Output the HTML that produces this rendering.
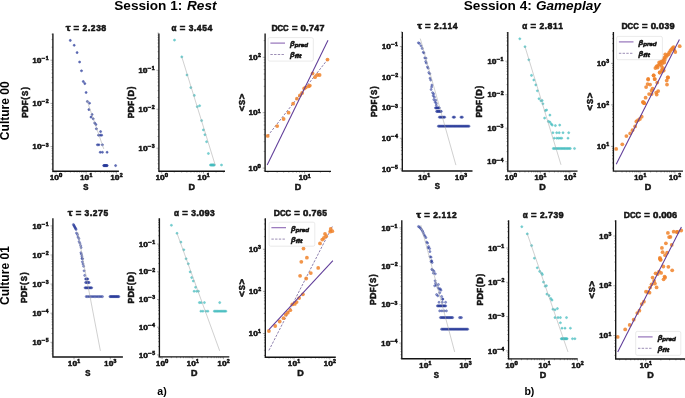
<!DOCTYPE html>
<html><head><meta charset="utf-8"><style>
html,body{margin:0;padding:0;background:#fff;}
body{width:685px;height:398px;overflow:hidden;font-family:"Liberation Sans", sans-serif;}
svg{display:block;will-change:transform;}
</style></head><body>
<svg width="685" height="398" viewBox="0 0 685 398" font-family='"Liberation Sans", sans-serif'>
<style>text{stroke:#141414;stroke-width:0.52px;paint-order:stroke;} .beta{stroke-width:0.5px;} .nb{stroke:none;}</style>
<rect width="685" height="398" fill="#fff"/>
<path d="M52.9 169.19h-1.4 M52.9 163.79h-1.4 M52.9 159.6h-1.4 M52.9 156.18h-1.4 M52.9 153.29h-1.4 M52.9 150.79h-1.4 M52.9 148.58h-1.4 M52.9 146.6h-2.4 M52.9 133.6h-1.4 M52.9 125.99h-1.4 M52.9 120.59h-1.4 M52.9 116.4h-1.4 M52.9 112.98h-1.4 M52.9 110.09h-1.4 M52.9 107.59h-1.4 M52.9 105.38h-1.4 M52.9 103.4h-2.4 M52.9 90.4h-1.4 M52.9 82.79h-1.4 M52.9 77.39h-1.4 M52.9 73.2h-1.4 M52.9 69.78h-1.4 M52.9 66.89h-1.4 M52.9 64.39h-1.4 M52.9 62.18h-1.4 M52.9 60.2h-2.4 M52.9 47.2h-1.4 M52.9 39.59h-1.4 M52.9 34.19h-1.4 M53.07 171.2v1.4 M54.62 171.2v1.4 M56 171.2v2.4 M65.09 171.2v1.4 M70.41 171.2v1.4 M74.18 171.2v1.4 M77.11 171.2v1.4 M79.5 171.2v1.4 M81.52 171.2v1.4 M83.27 171.2v1.4 M84.82 171.2v1.4 M86.2 171.2v2.4 M95.29 171.2v1.4 M100.61 171.2v1.4 M104.38 171.2v1.4 M107.31 171.2v1.4 M109.7 171.2v1.4 M111.72 171.2v1.4 M113.47 171.2v1.4 M115.02 171.2v1.4 M116.4 171.2v2.4" stroke="#555" stroke-width="0.5" fill="none"/>
<g fill="#141414" font-weight="bold"><text font-size="6.97" transform="matrix(1.06 0 0 1 32.5 62.8)">1</text><text font-size="6.97" transform="matrix(1.21 0 0 1 36.85 62.8)">0</text><text font-size="4.88" transform="matrix(1.2 0 0 1 41.78 60.15)">−</text><text font-size="4.88" transform="matrix(1.06 0 0 1 45.66 60.15)">1</text></g>
<g fill="#141414" font-weight="bold"><text font-size="6.97" transform="matrix(1.06 0 0 1 32.58 106)">1</text><text font-size="6.97" transform="matrix(1.21 0 0 1 36.94 106)">0</text><text font-size="4.88" transform="matrix(1.2 0 0 1 41.87 103.35)">−</text><text font-size="4.88" transform="matrix(1.06 0 0 1 45.74 103.35)">2</text></g>
<g fill="#141414" font-weight="bold"><text font-size="6.97" transform="matrix(1.06 0 0 1 32.55 149.2)">1</text><text font-size="6.97" transform="matrix(1.21 0 0 1 36.9 149.2)">0</text><text font-size="4.88" transform="matrix(1.2 0 0 1 41.83 146.55)">−</text><text font-size="4.88" transform="matrix(1.06 0 0 1 45.7 146.55)">3</text></g>
<g fill="#141414" font-weight="bold"><text font-size="6.97" transform="matrix(1.06 0 0 1 49.98 180.1)">1</text><text font-size="6.97" transform="matrix(1.21 0 0 1 54.34 180.1)">0</text><text font-size="4.88" transform="matrix(1.21 0 0 1 59 177.45)">0</text></g>
<g fill="#141414" font-weight="bold"><text font-size="6.97" transform="matrix(1.06 0 0 1 80.23 180.1)">1</text><text font-size="6.97" transform="matrix(1.21 0 0 1 84.59 180.1)">0</text><text font-size="4.88" transform="matrix(1.06 0 0 1 89.47 177.45)">1</text></g>
<g fill="#141414" font-weight="bold"><text font-size="6.97" transform="matrix(1.06 0 0 1 110.47 180.1)">1</text><text font-size="6.97" transform="matrix(1.21 0 0 1 114.83 180.1)">0</text><text font-size="4.88" transform="matrix(1.06 0 0 1 119.7 177.45)">2</text></g>
<g fill="#27399a" fill-opacity="0.72" stroke="#27399a" stroke-opacity="0.8" stroke-width="0.55"><circle cx="70.3" cy="40.4" r="1.05"/><circle cx="74.2" cy="45.3" r="1.05"/><circle cx="77.1" cy="52.6" r="1.05"/><circle cx="79.6" cy="62" r="1.05"/><circle cx="81.5" cy="70.8" r="1.05"/><circle cx="83.3" cy="81.5" r="1.05"/><circle cx="84.8" cy="83.6" r="1.05"/><circle cx="86.1" cy="92.5" r="1.05"/><circle cx="87.4" cy="101.5" r="1.05"/><circle cx="89.5" cy="103.2" r="1.05"/><circle cx="88.9" cy="109.6" r="1.05"/><circle cx="92.1" cy="114.5" r="1.05"/><circle cx="91" cy="117.1" r="1.05"/><circle cx="93.2" cy="118.8" r="1.05"/><circle cx="94.7" cy="123" r="1.05"/><circle cx="95.9" cy="124.5" r="1.05"/><circle cx="96.4" cy="128.8" r="1.05"/><circle cx="100.6" cy="131.6" r="1.05"/><circle cx="98.5" cy="135.2" r="1.05"/><circle cx="100.2" cy="135.2" r="1.05"/><circle cx="101.7" cy="135.2" r="1.05"/><circle cx="97.4" cy="144.8" r="1.05"/><circle cx="98.9" cy="144.8" r="1.05"/><circle cx="102.4" cy="144.8" r="1.05"/><circle cx="100.2" cy="152.3" r="1.05"/><circle cx="102.4" cy="152.3" r="1.05"/><circle cx="107.1" cy="152.3" r="1.05"/><circle cx="103.7" cy="165.6" r="1.05"/><circle cx="104.2" cy="165.6" r="1.05"/><circle cx="104.7" cy="165.6" r="1.05"/><circle cx="105.2" cy="165.6" r="1.05"/><circle cx="105.7" cy="165.6" r="1.05"/><circle cx="106.2" cy="165.6" r="1.05"/><circle cx="106.7" cy="165.6" r="1.05"/><circle cx="107.2" cy="165.6" r="1.05"/><circle cx="115.6" cy="165.6" r="1.05"/></g>
<line x1="86.8" y1="100" x2="103.8" y2="149" stroke="#a8a8a8" stroke-width="0.55"/>
<path d="M52.9 33.5V171.2H118.9" stroke="#141414" stroke-width="1.35" fill="none"/>
<g fill="#141414" font-weight="bold"><text font-size="8.42" transform="matrix(1.28 0 0 1 65.72 30.75)">τ</text><text font-size="8.42" transform="matrix(1.13 0 0 1 73.61 30.75)">=</text><text font-size="8.42" transform="matrix(1 0 0 1 82.58 30.75)">2</text><text font-size="8.42" transform="matrix(1.13 0 0 1 87.72 30.75)">.</text><text font-size="8.42" transform="matrix(1 0 0 1 90.81 30.75)">2</text><text font-size="8.42" transform="matrix(1 0 0 1 96.14 30.75)">3</text><text font-size="8.42" transform="matrix(1.05 0 0 1 101.33 30.75)">8</text></g>
<g fill="#141414" font-weight="bold"><text font-size="8.48" transform="matrix(0.92 0 0 1 83.34 189.6)">S</text></g>
<g fill="#141414" font-weight="bold" transform="translate(27.5 102.35) rotate(-90)"><text font-size="8.53" transform="matrix(1 0 0 1 -15.47 0)">P</text><text font-size="8.53" transform="matrix(1.06 0 0 1 -9.61 0)">D</text><text font-size="8.53" transform="matrix(0.94 0 0 1 -2.86 0)">F</text><text font-size="8.53" transform="matrix(0.97 0 0 1 2.72 0)">(</text><text font-size="8.53" transform="matrix(0.92 0 0 1 6.43 0)">S</text><text font-size="8.53" transform="matrix(0.97 0 0 1 12.55 0)">)</text></g>
<path d="M158.9 168.57h-1.4 M158.9 163.7h-1.4 M158.9 159.93h-1.4 M158.9 156.84h-1.4 M158.9 154.23h-1.4 M158.9 151.97h-1.4 M158.9 149.98h-1.4 M158.9 148.2h-2.4 M158.9 136.47h-1.4 M158.9 129.62h-1.4 M158.9 124.75h-1.4 M158.9 120.98h-1.4 M158.9 117.89h-1.4 M158.9 115.28h-1.4 M158.9 113.02h-1.4 M158.9 111.03h-1.4 M158.9 109.25h-2.4 M158.9 97.52h-1.4 M158.9 90.67h-1.4 M158.9 85.8h-1.4 M158.9 82.03h-1.4 M158.9 78.94h-1.4 M158.9 76.33h-1.4 M158.9 74.07h-1.4 M158.9 72.08h-1.4 M158.9 70.3h-2.4 M158.9 58.57h-1.4 M158.9 51.72h-1.4 M158.9 46.85h-1.4 M158.9 43.08h-1.4 M158.9 39.99h-1.4 M158.9 37.38h-1.4 M158.9 35.12h-1.4 M158.9 33.13h-1.4 M159.79 171.2v1.4 M161.7 171.2v2.4 M174.28 171.2v1.4 M181.64 171.2v1.4 M186.87 171.2v1.4 M190.92 171.2v1.4 M194.23 171.2v1.4 M197.03 171.2v1.4 M199.45 171.2v1.4 M201.59 171.2v1.4 M203.5 171.2v2.4 M216.08 171.2v1.4 M223.44 171.2v1.4" stroke="#555" stroke-width="0.5" fill="none"/>
<g fill="#141414" font-weight="bold"><text font-size="6.97" transform="matrix(1.06 0 0 1 138.5 72.9)">1</text><text font-size="6.97" transform="matrix(1.21 0 0 1 142.85 72.9)">0</text><text font-size="4.88" transform="matrix(1.2 0 0 1 147.78 70.25)">−</text><text font-size="4.88" transform="matrix(1.06 0 0 1 151.66 70.25)">1</text></g>
<g fill="#141414" font-weight="bold"><text font-size="6.97" transform="matrix(1.06 0 0 1 138.58 111.85)">1</text><text font-size="6.97" transform="matrix(1.21 0 0 1 142.94 111.85)">0</text><text font-size="4.88" transform="matrix(1.2 0 0 1 147.87 109.2)">−</text><text font-size="4.88" transform="matrix(1.06 0 0 1 151.74 109.2)">2</text></g>
<g fill="#141414" font-weight="bold"><text font-size="6.97" transform="matrix(1.06 0 0 1 138.55 150.8)">1</text><text font-size="6.97" transform="matrix(1.21 0 0 1 142.9 150.8)">0</text><text font-size="4.88" transform="matrix(1.2 0 0 1 147.83 148.15)">−</text><text font-size="4.88" transform="matrix(1.06 0 0 1 151.7 148.15)">3</text></g>
<g fill="#141414" font-weight="bold"><text font-size="6.97" transform="matrix(1.06 0 0 1 155.68 180.1)">1</text><text font-size="6.97" transform="matrix(1.21 0 0 1 160.04 180.1)">0</text><text font-size="4.88" transform="matrix(1.21 0 0 1 164.7 177.45)">0</text></g>
<g fill="#141414" font-weight="bold"><text font-size="6.97" transform="matrix(1.06 0 0 1 197.53 180.1)">1</text><text font-size="6.97" transform="matrix(1.21 0 0 1 201.89 180.1)">0</text><text font-size="4.88" transform="matrix(1.06 0 0 1 206.77 177.45)">1</text></g>
<g fill="#45bcbf" fill-opacity="0.72" stroke="#45bcbf" stroke-opacity="0.8" stroke-width="0.55"><circle cx="174.5" cy="40.1" r="1.05"/><circle cx="181.8" cy="56.9" r="1.05"/><circle cx="187" cy="75" r="1.05"/><circle cx="190.8" cy="87.6" r="1.05"/><circle cx="194.3" cy="95.4" r="1.05"/><circle cx="197.3" cy="106.7" r="1.05"/><circle cx="199.6" cy="105.7" r="1.05"/><circle cx="201.6" cy="120.6" r="1.05"/><circle cx="203.4" cy="129.9" r="1.05"/><circle cx="204.9" cy="134.7" r="1.05"/><circle cx="206.6" cy="141.7" r="1.05"/><circle cx="208.4" cy="153.5" r="1.05"/><circle cx="210.5" cy="165" r="1.05"/><circle cx="211.04" cy="165" r="1.05"/><circle cx="211.59" cy="165" r="1.05"/><circle cx="212.13" cy="165" r="1.05"/><circle cx="212.67" cy="165" r="1.05"/><circle cx="213.21" cy="165" r="1.05"/><circle cx="213.76" cy="165" r="1.05"/><circle cx="214.3" cy="165" r="1.05"/><circle cx="221.5" cy="165" r="1.05"/></g>
<line x1="181.8" y1="56.9" x2="215.2" y2="165" stroke="#a8a8a8" stroke-width="0.55"/>
<path d="M158.9 33.5V171.2H225" stroke="#141414" stroke-width="1.35" fill="none"/>
<g fill="#141414" font-weight="bold"><text font-size="8.42" transform="matrix(0.96 0 0 1 171.4 30.75)">α</text><text font-size="8.42" transform="matrix(1.13 0 0 1 179.68 30.75)">=</text><text font-size="8.42" transform="matrix(1 0 0 1 188.66 30.75)">3</text><text font-size="8.42" transform="matrix(1.13 0 0 1 193.79 30.75)">.</text><text font-size="8.42" transform="matrix(1.03 0 0 1 196.78 30.75)">4</text><text font-size="8.42" transform="matrix(1 0 0 1 202.22 30.75)">5</text><text font-size="8.42" transform="matrix(1.03 0 0 1 207.43 30.75)">4</text></g>
<g fill="#141414" font-weight="bold"><text font-size="8.48" transform="matrix(1.06 0 0 1 188.61 189.6)">D</text></g>
<g fill="#141414" font-weight="bold" transform="translate(133.5 102.35) rotate(-90)"><text font-size="8.53" transform="matrix(1 0 0 1 -15.92 0)">P</text><text font-size="8.53" transform="matrix(1.06 0 0 1 -10.05 0)">D</text><text font-size="8.53" transform="matrix(0.94 0 0 1 -3.3 0)">F</text><text font-size="8.53" transform="matrix(0.97 0 0 1 2.28 0)">(</text><text font-size="8.53" transform="matrix(1.06 0 0 1 5.81 0)">D</text><text font-size="8.53" transform="matrix(0.97 0 0 1 12.99 0)">)</text></g>
<path d="M265.1 170.63h-1.4 M265.1 168.1h-2.4 M265.1 151.42h-1.4 M265.1 141.67h-1.4 M265.1 134.75h-1.4 M265.1 129.38h-1.4 M265.1 124.99h-1.4 M265.1 121.28h-1.4 M265.1 118.07h-1.4 M265.1 115.23h-1.4 M265.1 112.7h-2.4 M265.1 96.02h-1.4 M265.1 86.27h-1.4 M265.1 79.35h-1.4 M265.1 73.98h-1.4 M265.1 69.59h-1.4 M265.1 65.88h-1.4 M265.1 62.67h-1.4 M265.1 59.83h-1.4 M265.1 57.3h-2.4 M265.1 40.62h-1.4 M267.9 171.3v1.4 M277.15 171.3v1.4 M283.71 171.3v1.4 M288.8 171.3v1.4 M292.95 171.3v1.4 M296.47 171.3v1.4 M299.51 171.3v1.4 M302.2 171.3v1.4 M304.6 171.3v2.4 M320.4 171.3v1.4 M329.65 171.3v1.4" stroke="#555" stroke-width="0.5" fill="none"/>
<g fill="#141414" font-weight="bold"><text font-size="6.97" transform="matrix(1.06 0 0 1 248.71 59.9)">1</text><text font-size="6.97" transform="matrix(1.21 0 0 1 253.07 59.9)">0</text><text font-size="4.88" transform="matrix(1.06 0 0 1 257.94 57.25)">2</text></g>
<g fill="#141414" font-weight="bold"><text font-size="6.97" transform="matrix(1.06 0 0 1 248.63 115.3)">1</text><text font-size="6.97" transform="matrix(1.21 0 0 1 252.98 115.3)">0</text><text font-size="4.88" transform="matrix(1.06 0 0 1 257.86 112.65)">1</text></g>
<g fill="#141414" font-weight="bold"><text font-size="6.97" transform="matrix(1.06 0 0 1 248.53 170.7)">1</text><text font-size="6.97" transform="matrix(1.21 0 0 1 252.89 170.7)">0</text><text font-size="4.88" transform="matrix(1.21 0 0 1 257.55 168.05)">0</text></g>
<g fill="#141414" font-weight="bold"><text font-size="6.97" transform="matrix(1.06 0 0 1 298.63 180.2)">1</text><text font-size="6.97" transform="matrix(1.21 0 0 1 302.99 180.2)">0</text><text font-size="4.88" transform="matrix(1.06 0 0 1 307.87 177.55)">1</text></g>
<line x1="267.7" y1="135.9" x2="327.5" y2="59.6" stroke="#6f5e98" stroke-width="0.8" stroke-dasharray="2.4 1.4"/>
<g fill="#f0832a" fill-opacity="0.85"><circle cx="267.7" cy="135.9" r="1.9"/><circle cx="277.2" cy="126.1" r="1.9"/><circle cx="283.6" cy="119" r="1.9"/><circle cx="288.6" cy="112.7" r="1.9"/><circle cx="293.1" cy="103.7" r="1.9"/><circle cx="296.9" cy="98.7" r="1.9"/><circle cx="299.9" cy="95.3" r="1.9"/><circle cx="302.1" cy="93" r="1.9"/><circle cx="304.2" cy="88.5" r="1.9"/><circle cx="305.8" cy="87.4" r="1.9"/><circle cx="308.7" cy="86.3" r="1.9"/><circle cx="309.8" cy="85.6" r="1.9"/><circle cx="312.6" cy="73.4" r="1.9"/><circle cx="315" cy="77.2" r="1.9"/><circle cx="317.3" cy="75" r="1.9"/><circle cx="319.6" cy="75" r="1.9"/><circle cx="327.5" cy="59.6" r="1.9"/></g>
<line x1="267.2" y1="164.9" x2="328" y2="40.3" stroke="#5f3c99" stroke-width="1.05"/>
<path d="M265.1 33.5V171.3H331" stroke="#141414" stroke-width="1.35" fill="none"/>
<g fill="#141414" font-weight="bold"><text font-size="8.42" transform="matrix(1.02 0 0 1 271.38 30.75)">D</text><text font-size="8.42" transform="matrix(0.92 0 0 1 277.5 30.75)">C</text><text font-size="8.42" transform="matrix(0.92 0 0 1 283.12 30.75)">C</text><text font-size="8.42" transform="matrix(1.13 0 0 1 291.9 30.75)">=</text><text font-size="8.42" transform="matrix(1.15 0 0 1 300.55 30.75)">0</text><text font-size="8.42" transform="matrix(1.13 0 0 1 306.02 30.75)">.</text><text font-size="8.42" transform="matrix(1.06 0 0 1 308.92 30.75)">7</text><text font-size="8.42" transform="matrix(1.03 0 0 1 314.33 30.75)">4</text><text font-size="8.42" transform="matrix(1.06 0 0 1 319.56 30.75)">7</text></g>
<g fill="#141414" font-weight="bold"><text font-size="8.48" transform="matrix(1.06 0 0 1 294.71 189.7)">D</text></g>
<g fill="#141414" font-weight="bold" transform="translate(244.7 102.4) rotate(-90)"><text font-size="8.27" transform="matrix(1.18 0 0 1 -8.93 0)">&lt;</text><text font-size="8.27" transform="matrix(0.92 0 0 1 -2.5 0)">S</text><text font-size="8.27" transform="matrix(1.18 0 0 1 3.23 0)">&gt;</text></g>
<rect x="268.1" y="37.6" width="45.2" height="23.5" rx="1.6" fill="#fff" fill-opacity="0.8" stroke="#dcdcdc" stroke-width="0.6"/>
<line x1="270.4" y1="43.1" x2="285" y2="43.1" stroke="#8c66b4" stroke-width="1.1"/>
<line x1="270.4" y1="54.5" x2="285" y2="54.5" stroke="#8a7aa8" stroke-width="0.85" stroke-dasharray="2.4 1.3"/>
<g fill="#111" font-weight="bold" font-style="italic" class="leg">
<text x="290.1" y="46" font-size="7.6" class="beta">β</text>
<text x="294.7" y="47" font-size="5.5" textLength="13.4" lengthAdjust="spacingAndGlyphs">pred</text>
<text x="290.1" y="57.4" font-size="7.6" class="beta">β</text>
<text x="294.7" y="58.4" font-size="5.5" textLength="6.8" lengthAdjust="spacingAndGlyphs">fit</text>
</g>
<path d="M402.3 170.3h-1.4 M402.3 168.9h-2.4 M402.3 159.69h-1.4 M402.3 154.3h-1.4 M402.3 150.48h-1.4 M402.3 147.51h-1.4 M402.3 145.09h-1.4 M402.3 143.04h-1.4 M402.3 141.27h-1.4 M402.3 139.7h-1.4 M402.3 138.3h-2.4 M402.3 129.09h-1.4 M402.3 123.7h-1.4 M402.3 119.88h-1.4 M402.3 116.91h-1.4 M402.3 114.49h-1.4 M402.3 112.44h-1.4 M402.3 110.67h-1.4 M402.3 109.1h-1.4 M402.3 107.7h-2.4 M402.3 98.49h-1.4 M402.3 93.1h-1.4 M402.3 89.28h-1.4 M402.3 86.31h-1.4 M402.3 83.89h-1.4 M402.3 81.84h-1.4 M402.3 80.07h-1.4 M402.3 78.5h-1.4 M402.3 77.1h-2.4 M402.3 67.89h-1.4 M402.3 62.5h-1.4 M402.3 58.68h-1.4 M402.3 55.71h-1.4 M402.3 53.29h-1.4 M402.3 51.24h-1.4 M402.3 49.47h-1.4 M402.3 47.9h-1.4 M402.3 46.5h-2.4 M402.3 37.29h-1.4 M402.3 31.9h-1.4 M424.1 171v2.4 M461 171v2.4" stroke="#555" stroke-width="0.5" fill="none"/>
<g fill="#141414" font-weight="bold"><text font-size="6.97" transform="matrix(1.06 0 0 1 381.9 49.1)">1</text><text font-size="6.97" transform="matrix(1.21 0 0 1 386.25 49.1)">0</text><text font-size="4.88" transform="matrix(1.2 0 0 1 391.18 46.45)">−</text><text font-size="4.88" transform="matrix(1.06 0 0 1 395.06 46.45)">1</text></g>
<g fill="#141414" font-weight="bold"><text font-size="6.97" transform="matrix(1.06 0 0 1 381.98 79.7)">1</text><text font-size="6.97" transform="matrix(1.21 0 0 1 386.34 79.7)">0</text><text font-size="4.88" transform="matrix(1.2 0 0 1 391.27 77.05)">−</text><text font-size="4.88" transform="matrix(1.06 0 0 1 395.14 77.05)">2</text></g>
<g fill="#141414" font-weight="bold"><text font-size="6.97" transform="matrix(1.06 0 0 1 381.95 110.3)">1</text><text font-size="6.97" transform="matrix(1.21 0 0 1 386.3 110.3)">0</text><text font-size="4.88" transform="matrix(1.2 0 0 1 391.23 107.65)">−</text><text font-size="4.88" transform="matrix(1.06 0 0 1 395.1 107.65)">3</text></g>
<g fill="#141414" font-weight="bold"><text font-size="6.97" transform="matrix(1.06 0 0 1 381.79 140.9)">1</text><text font-size="6.97" transform="matrix(1.21 0 0 1 386.15 140.9)">0</text><text font-size="4.88" transform="matrix(1.2 0 0 1 391.08 138.25)">−</text><text font-size="4.88" transform="matrix(1.09 0 0 1 394.88 138.25)">4</text></g>
<g fill="#141414" font-weight="bold"><text font-size="6.97" transform="matrix(1.06 0 0 1 381.9 171.5)">1</text><text font-size="6.97" transform="matrix(1.21 0 0 1 386.26 171.5)">0</text><text font-size="4.88" transform="matrix(1.2 0 0 1 391.19 168.85)">−</text><text font-size="4.88" transform="matrix(1.06 0 0 1 395.07 168.85)">5</text></g>
<g fill="#141414" font-weight="bold"><text font-size="6.97" transform="matrix(1.06 0 0 1 418.13 179.9)">1</text><text font-size="6.97" transform="matrix(1.21 0 0 1 422.49 179.9)">0</text><text font-size="4.88" transform="matrix(1.06 0 0 1 427.37 177.25)">1</text></g>
<g fill="#141414" font-weight="bold"><text font-size="6.97" transform="matrix(1.06 0 0 1 455.05 179.9)">1</text><text font-size="6.97" transform="matrix(1.21 0 0 1 459.41 179.9)">0</text><text font-size="4.88" transform="matrix(1.06 0 0 1 464.28 177.25)">3</text></g>
<g fill="#27399a" fill-opacity="0.5" stroke="#27399a" stroke-opacity="0.72" stroke-width="0.55"><circle cx="418.4" cy="42.8" r="1.05"/><circle cx="419.5" cy="43.5" r="1.05"/><circle cx="421" cy="45.8" r="1.05"/><circle cx="422.2" cy="48.4" r="1.05"/><circle cx="423.3" cy="52.2" r="1.05"/><circle cx="424" cy="53" r="1.05"/><circle cx="424.8" cy="57.9" r="1.05"/><circle cx="426" cy="58.2" r="1.05"/><circle cx="425.7" cy="61.5" r="1.05"/><circle cx="426.3" cy="63.1" r="1.05"/><circle cx="427.5" cy="66.9" r="1.05"/><circle cx="428.2" cy="68.2" r="1.05"/><circle cx="428.8" cy="72.6" r="1.05"/><circle cx="429.8" cy="73.8" r="1.05"/><circle cx="430" cy="78.2" r="1.05"/><circle cx="430.7" cy="80.1" r="1.05"/><circle cx="431.9" cy="85.1" r="1.05"/><circle cx="431.6" cy="87" r="1.05"/><circle cx="431.1" cy="89.5" r="1.05"/><circle cx="432.6" cy="92.7" r="1.05"/><circle cx="433.6" cy="93.9" r="1.05"/><circle cx="433.2" cy="95.8" r="1.05"/><circle cx="434.4" cy="97.1" r="1.05"/><circle cx="433.8" cy="99.6" r="1.05"/><circle cx="435.7" cy="100.2" r="1.05"/><circle cx="435.1" cy="102.1" r="1.05"/><circle cx="436.3" cy="103.3" r="1.05"/><circle cx="436.3" cy="105.2" r="1.05"/><circle cx="435.5" cy="107.9" r="1.05"/><circle cx="436.13" cy="107.9" r="1.05"/><circle cx="436.77" cy="107.9" r="1.05"/><circle cx="437.4" cy="107.9" r="1.05"/><circle cx="438.03" cy="107.9" r="1.05"/><circle cx="438.67" cy="107.9" r="1.05"/><circle cx="439.3" cy="107.9" r="1.05"/><circle cx="436.6" cy="111.4" r="1.05"/><circle cx="437.27" cy="111.4" r="1.05"/><circle cx="437.94" cy="111.4" r="1.05"/><circle cx="438.61" cy="111.4" r="1.05"/><circle cx="439.29" cy="111.4" r="1.05"/><circle cx="439.96" cy="111.4" r="1.05"/><circle cx="440.63" cy="111.4" r="1.05"/><circle cx="441.3" cy="111.4" r="1.05"/><circle cx="439.3" cy="117.2" r="1.05"/><circle cx="440.09" cy="117.2" r="1.05"/><circle cx="440.87" cy="117.2" r="1.05"/><circle cx="441.66" cy="117.2" r="1.05"/><circle cx="442.44" cy="117.2" r="1.05"/><circle cx="443.23" cy="117.2" r="1.05"/><circle cx="444.01" cy="117.2" r="1.05"/><circle cx="444.8" cy="117.2" r="1.05"/><circle cx="453.1" cy="117.2" r="1.05"/><circle cx="453.85" cy="117.2" r="1.05"/><circle cx="454.6" cy="117.2" r="1.05"/><circle cx="460.9" cy="117.2" r="1.05"/><circle cx="461.65" cy="117.2" r="1.05"/><circle cx="462.4" cy="117.2" r="1.05"/><circle cx="438.3" cy="126.2" r="1.05"/><circle cx="439.09" cy="126.2" r="1.05"/><circle cx="439.88" cy="126.2" r="1.05"/><circle cx="440.67" cy="126.2" r="1.05"/><circle cx="441.46" cy="126.2" r="1.05"/><circle cx="442.25" cy="126.2" r="1.05"/><circle cx="443.04" cy="126.2" r="1.05"/><circle cx="443.83" cy="126.2" r="1.05"/><circle cx="444.62" cy="126.2" r="1.05"/><circle cx="445.41" cy="126.2" r="1.05"/><circle cx="446.2" cy="126.2" r="1.05"/><circle cx="446.99" cy="126.2" r="1.05"/><circle cx="447.78" cy="126.2" r="1.05"/><circle cx="448.57" cy="126.2" r="1.05"/><circle cx="449.36" cy="126.2" r="1.05"/><circle cx="450.15" cy="126.2" r="1.05"/><circle cx="450.94" cy="126.2" r="1.05"/><circle cx="451.73" cy="126.2" r="1.05"/><circle cx="452.52" cy="126.2" r="1.05"/><circle cx="453.31" cy="126.2" r="1.05"/><circle cx="454.09" cy="126.2" r="1.05"/><circle cx="454.88" cy="126.2" r="1.05"/><circle cx="455.67" cy="126.2" r="1.05"/><circle cx="456.46" cy="126.2" r="1.05"/><circle cx="457.25" cy="126.2" r="1.05"/><circle cx="458.04" cy="126.2" r="1.05"/><circle cx="458.83" cy="126.2" r="1.05"/><circle cx="459.62" cy="126.2" r="1.05"/><circle cx="460.41" cy="126.2" r="1.05"/><circle cx="461.2" cy="126.2" r="1.05"/><circle cx="461.99" cy="126.2" r="1.05"/><circle cx="462.78" cy="126.2" r="1.05"/><circle cx="463.57" cy="126.2" r="1.05"/><circle cx="464.36" cy="126.2" r="1.05"/><circle cx="465.15" cy="126.2" r="1.05"/><circle cx="465.94" cy="126.2" r="1.05"/><circle cx="466.73" cy="126.2" r="1.05"/><circle cx="467.52" cy="126.2" r="1.05"/><circle cx="468.31" cy="126.2" r="1.05"/><circle cx="469.1" cy="126.2" r="1.05"/></g>
<line x1="420.3" y1="38.6" x2="455.9" y2="165.1" stroke="#a8a8a8" stroke-width="0.55"/>
<path d="M402.3 32.1V171H472.5" stroke="#141414" stroke-width="1.35" fill="none"/>
<g fill="#141414" font-weight="bold"><text font-size="8.42" transform="matrix(1.28 0 0 1 417.15 29.35)">τ</text><text font-size="8.42" transform="matrix(1.13 0 0 1 425.05 29.35)">=</text><text font-size="8.42" transform="matrix(1 0 0 1 434.02 29.35)">2</text><text font-size="8.42" transform="matrix(1.13 0 0 1 439.16 29.35)">.</text><text font-size="8.42" transform="matrix(1 0 0 1 442.27 29.35)">1</text><text font-size="8.42" transform="matrix(1 0 0 1 447.59 29.35)">1</text><text font-size="8.42" transform="matrix(1.03 0 0 1 452.79 29.35)">4</text></g>
<g fill="#141414" font-weight="bold"><text font-size="8.48" transform="matrix(0.92 0 0 1 434.84 189.4)">S</text></g>
<g fill="#141414" font-weight="bold" transform="translate(376.9 101.55) rotate(-90)"><text font-size="8.53" transform="matrix(1 0 0 1 -15.47 0)">P</text><text font-size="8.53" transform="matrix(1.06 0 0 1 -9.61 0)">D</text><text font-size="8.53" transform="matrix(0.94 0 0 1 -2.86 0)">F</text><text font-size="8.53" transform="matrix(0.97 0 0 1 2.72 0)">(</text><text font-size="8.53" transform="matrix(0.92 0 0 1 6.43 0)">S</text><text font-size="8.53" transform="matrix(0.97 0 0 1 12.55 0)">)</text></g>
<path d="M507.8 169.13h-1.4 M507.8 166.89h-1.4 M507.8 164.95h-1.4 M507.8 163.23h-1.4 M507.8 161.7h-2.4 M507.8 151.62h-1.4 M507.8 145.72h-1.4 M507.8 141.53h-1.4 M507.8 138.28h-1.4 M507.8 135.63h-1.4 M507.8 133.39h-1.4 M507.8 131.45h-1.4 M507.8 129.73h-1.4 M507.8 128.2h-2.4 M507.8 118.12h-1.4 M507.8 112.22h-1.4 M507.8 108.03h-1.4 M507.8 104.78h-1.4 M507.8 102.13h-1.4 M507.8 99.89h-1.4 M507.8 97.95h-1.4 M507.8 96.23h-1.4 M507.8 94.7h-2.4 M507.8 84.62h-1.4 M507.8 78.72h-1.4 M507.8 74.53h-1.4 M507.8 71.28h-1.4 M507.8 68.63h-1.4 M507.8 66.39h-1.4 M507.8 64.45h-1.4 M507.8 62.73h-1.4 M507.8 61.2h-2.4 M507.8 51.12h-1.4 M507.8 45.22h-1.4 M507.8 41.03h-1.4 M507.8 37.78h-1.4 M507.8 35.13h-1.4 M507.8 32.89h-1.4 M507.99 171.1v1.4 M509.5 171.1v1.4 M510.85 171.1v2.4 M519.73 171.1v1.4 M524.93 171.1v1.4 M528.61 171.1v1.4 M531.47 171.1v1.4 M533.81 171.1v1.4 M535.78 171.1v1.4 M537.49 171.1v1.4 M539 171.1v1.4 M540.35 171.1v2.4 M549.23 171.1v1.4 M554.43 171.1v1.4 M558.11 171.1v1.4 M560.97 171.1v1.4 M563.31 171.1v1.4 M565.28 171.1v1.4 M566.99 171.1v1.4 M568.5 171.1v1.4 M569.85 171.1v2.4" stroke="#555" stroke-width="0.5" fill="none"/>
<g fill="#141414" font-weight="bold"><text font-size="6.97" transform="matrix(1.06 0 0 1 487.4 63.8)">1</text><text font-size="6.97" transform="matrix(1.21 0 0 1 491.75 63.8)">0</text><text font-size="4.88" transform="matrix(1.2 0 0 1 496.68 61.15)">−</text><text font-size="4.88" transform="matrix(1.06 0 0 1 500.56 61.15)">1</text></g>
<g fill="#141414" font-weight="bold"><text font-size="6.97" transform="matrix(1.06 0 0 1 487.48 97.3)">1</text><text font-size="6.97" transform="matrix(1.21 0 0 1 491.84 97.3)">0</text><text font-size="4.88" transform="matrix(1.2 0 0 1 496.77 94.65)">−</text><text font-size="4.88" transform="matrix(1.06 0 0 1 500.64 94.65)">2</text></g>
<g fill="#141414" font-weight="bold"><text font-size="6.97" transform="matrix(1.06 0 0 1 487.45 130.8)">1</text><text font-size="6.97" transform="matrix(1.21 0 0 1 491.8 130.8)">0</text><text font-size="4.88" transform="matrix(1.2 0 0 1 496.73 128.15)">−</text><text font-size="4.88" transform="matrix(1.06 0 0 1 500.6 128.15)">3</text></g>
<g fill="#141414" font-weight="bold"><text font-size="6.97" transform="matrix(1.06 0 0 1 487.29 164.3)">1</text><text font-size="6.97" transform="matrix(1.21 0 0 1 491.65 164.3)">0</text><text font-size="4.88" transform="matrix(1.2 0 0 1 496.58 161.65)">−</text><text font-size="4.88" transform="matrix(1.09 0 0 1 500.38 161.65)">4</text></g>
<g fill="#141414" font-weight="bold"><text font-size="6.97" transform="matrix(1.06 0 0 1 504.83 180)">1</text><text font-size="6.97" transform="matrix(1.21 0 0 1 509.19 180)">0</text><text font-size="4.88" transform="matrix(1.21 0 0 1 513.85 177.35)">0</text></g>
<g fill="#141414" font-weight="bold"><text font-size="6.97" transform="matrix(1.06 0 0 1 534.38 180)">1</text><text font-size="6.97" transform="matrix(1.21 0 0 1 538.74 180)">0</text><text font-size="4.88" transform="matrix(1.06 0 0 1 543.62 177.35)">1</text></g>
<g fill="#141414" font-weight="bold"><text font-size="6.97" transform="matrix(1.06 0 0 1 563.92 180)">1</text><text font-size="6.97" transform="matrix(1.21 0 0 1 568.28 180)">0</text><text font-size="4.88" transform="matrix(1.06 0 0 1 573.15 177.35)">2</text></g>
<g fill="#45bcbf" fill-opacity="0.72" stroke="#45bcbf" stroke-opacity="0.8" stroke-width="0.55"><circle cx="519.8" cy="38.8" r="1.05"/><circle cx="525" cy="46.7" r="1.05"/><circle cx="528.8" cy="59.8" r="1.05"/><circle cx="531.5" cy="75.4" r="1.05"/><circle cx="533.8" cy="80" r="1.05"/><circle cx="535.8" cy="84.9" r="1.05"/><circle cx="537.4" cy="90.8" r="1.05"/><circle cx="539" cy="98.7" r="1.05"/><circle cx="540.9" cy="100.8" r="1.05"/><circle cx="542.2" cy="100.6" r="1.05"/><circle cx="542.9" cy="103.8" r="1.05"/><circle cx="545.4" cy="110.6" r="1.05"/><circle cx="546.6" cy="110" r="1.05"/><circle cx="544.6" cy="118.1" r="1.05"/><circle cx="549.9" cy="115.1" r="1.05"/><circle cx="548.4" cy="121.4" r="1.05"/><circle cx="549.9" cy="122.1" r="1.05"/><circle cx="551.2" cy="123.9" r="1.05"/><circle cx="552.2" cy="125.1" r="1.05"/><circle cx="555.4" cy="125.6" r="1.05"/><circle cx="559.7" cy="125.1" r="1.05"/><circle cx="552.9" cy="132.7" r="1.05"/><circle cx="556.7" cy="132.7" r="1.05"/><circle cx="559.2" cy="132.7" r="1.05"/><circle cx="563" cy="132.7" r="1.05"/><circle cx="568.7" cy="132.7" r="1.05"/><circle cx="554.2" cy="138.2" r="1.05"/><circle cx="556.7" cy="138.2" r="1.05"/><circle cx="558.4" cy="138.2" r="1.05"/><circle cx="560.1" cy="138.2" r="1.05"/><circle cx="561.7" cy="138.2" r="1.05"/><circle cx="568" cy="138.2" r="1.05"/><circle cx="553.3" cy="148.5" r="1.05"/><circle cx="554.51" cy="148.5" r="1.05"/><circle cx="555.73" cy="148.5" r="1.05"/><circle cx="556.94" cy="148.5" r="1.05"/><circle cx="558.16" cy="148.5" r="1.05"/><circle cx="559.37" cy="148.5" r="1.05"/><circle cx="560.59" cy="148.5" r="1.05"/><circle cx="561.8" cy="148.5" r="1.05"/><circle cx="563.01" cy="148.5" r="1.05"/><circle cx="564.23" cy="148.5" r="1.05"/><circle cx="565.44" cy="148.5" r="1.05"/><circle cx="566.66" cy="148.5" r="1.05"/><circle cx="567.87" cy="148.5" r="1.05"/><circle cx="569.09" cy="148.5" r="1.05"/><circle cx="570.3" cy="148.5" r="1.05"/><circle cx="574.5" cy="148.5" r="1.05"/></g>
<line x1="525" y1="46.7" x2="561" y2="164.8" stroke="#a8a8a8" stroke-width="0.55"/>
<path d="M507.8 32.1V171.1H577.5" stroke="#141414" stroke-width="1.35" fill="none"/>
<g fill="#141414" font-weight="bold"><text font-size="8.42" transform="matrix(0.96 0 0 1 522.19 29.35)">α</text><text font-size="8.42" transform="matrix(1.13 0 0 1 530.47 29.35)">=</text><text font-size="8.42" transform="matrix(1 0 0 1 539.44 29.35)">2</text><text font-size="8.42" transform="matrix(1.13 0 0 1 544.58 29.35)">.</text><text font-size="8.42" transform="matrix(1.05 0 0 1 547.54 29.35)">8</text><text font-size="8.42" transform="matrix(1 0 0 1 553.01 29.35)">1</text><text font-size="8.42" transform="matrix(1 0 0 1 558.33 29.35)">1</text></g>
<g fill="#141414" font-weight="bold"><text font-size="8.48" transform="matrix(1.06 0 0 1 539.31 189.5)">D</text></g>
<g fill="#141414" font-weight="bold" transform="translate(482.4 101.6) rotate(-90)"><text font-size="8.53" transform="matrix(1 0 0 1 -15.92 0)">P</text><text font-size="8.53" transform="matrix(1.06 0 0 1 -10.05 0)">D</text><text font-size="8.53" transform="matrix(0.94 0 0 1 -3.3 0)">F</text><text font-size="8.53" transform="matrix(0.97 0 0 1 2.28 0)">(</text><text font-size="8.53" transform="matrix(1.06 0 0 1 5.81 0)">D</text><text font-size="8.53" transform="matrix(0.97 0 0 1 12.99 0)">)</text></g>
<path d="M613.4 168.1h-1.4 M613.4 162.91h-1.4 M613.4 158.89h-1.4 M613.4 155.61h-1.4 M613.4 152.83h-1.4 M613.4 150.42h-1.4 M613.4 148.3h-1.4 M613.4 146.4h-2.4 M613.4 133.91h-1.4 M613.4 126.6h-1.4 M613.4 121.41h-1.4 M613.4 117.39h-1.4 M613.4 114.11h-1.4 M613.4 111.33h-1.4 M613.4 108.92h-1.4 M613.4 106.8h-1.4 M613.4 104.9h-2.4 M613.4 92.41h-1.4 M613.4 85.1h-1.4 M613.4 79.91h-1.4 M613.4 75.89h-1.4 M613.4 72.61h-1.4 M613.4 69.83h-1.4 M613.4 67.42h-1.4 M613.4 65.3h-1.4 M613.4 63.4h-2.4 M613.4 50.91h-1.4 M613.4 43.6h-1.4 M613.4 38.41h-1.4 M613.4 34.39h-1.4 M615.9 171.1v1.4 M622.01 171.1v1.4 M626.34 171.1v1.4 M629.7 171.1v1.4 M632.45 171.1v1.4 M634.77 171.1v1.4 M636.79 171.1v1.4 M638.56 171.1v1.4 M640.15 171.1v2.4 M650.6 171.1v1.4 M656.71 171.1v1.4 M661.04 171.1v1.4 M664.4 171.1v1.4 M667.15 171.1v1.4 M669.47 171.1v1.4 M671.49 171.1v1.4 M673.26 171.1v1.4 M674.85 171.1v2.4" stroke="#555" stroke-width="0.5" fill="none"/>
<g fill="#141414" font-weight="bold"><text font-size="6.97" transform="matrix(1.06 0 0 1 596.98 66)">1</text><text font-size="6.97" transform="matrix(1.21 0 0 1 601.33 66)">0</text><text font-size="4.88" transform="matrix(1.06 0 0 1 606.2 63.35)">3</text></g>
<g fill="#141414" font-weight="bold"><text font-size="6.97" transform="matrix(1.06 0 0 1 597.01 107.5)">1</text><text font-size="6.97" transform="matrix(1.21 0 0 1 601.37 107.5)">0</text><text font-size="4.88" transform="matrix(1.06 0 0 1 606.24 104.85)">2</text></g>
<g fill="#141414" font-weight="bold"><text font-size="6.97" transform="matrix(1.06 0 0 1 596.93 149)">1</text><text font-size="6.97" transform="matrix(1.21 0 0 1 601.28 149)">0</text><text font-size="4.88" transform="matrix(1.06 0 0 1 606.16 146.35)">1</text></g>
<g fill="#141414" font-weight="bold"><text font-size="6.97" transform="matrix(1.06 0 0 1 634.18 180)">1</text><text font-size="6.97" transform="matrix(1.21 0 0 1 638.54 180)">0</text><text font-size="4.88" transform="matrix(1.06 0 0 1 643.42 177.35)">1</text></g>
<g fill="#141414" font-weight="bold"><text font-size="6.97" transform="matrix(1.06 0 0 1 668.92 180)">1</text><text font-size="6.97" transform="matrix(1.21 0 0 1 673.28 180)">0</text><text font-size="4.88" transform="matrix(1.06 0 0 1 678.15 177.35)">2</text></g>
<g fill="#f0832a" fill-opacity="0.85"><circle cx="679.7" cy="46.2" r="1.9"/><circle cx="673.6" cy="47.1" r="1.9"/><circle cx="672.5" cy="48.2" r="1.9"/><circle cx="671.4" cy="49.3" r="1.9"/><circle cx="674.2" cy="49.8" r="1.9"/><circle cx="675.3" cy="52" r="1.9"/><circle cx="670.3" cy="50.9" r="1.9"/><circle cx="669.2" cy="52.6" r="1.9"/><circle cx="668.6" cy="54.3" r="1.9"/><circle cx="667" cy="55.4" r="1.9"/><circle cx="665.3" cy="54.3" r="1.9"/><circle cx="665.9" cy="57" r="1.9"/><circle cx="664.2" cy="57.6" r="1.9"/><circle cx="663.1" cy="59.2" r="1.9"/><circle cx="664.8" cy="59.8" r="1.9"/><circle cx="662" cy="60.9" r="1.9"/><circle cx="660.9" cy="62" r="1.9"/><circle cx="659.2" cy="62.5" r="1.9"/><circle cx="662.5" cy="63.1" r="1.9"/><circle cx="664.2" cy="62.5" r="1.9"/><circle cx="659.8" cy="64.2" r="1.9"/><circle cx="658.1" cy="65.3" r="1.9"/><circle cx="661.4" cy="65.9" r="1.9"/><circle cx="656.5" cy="66.4" r="1.9"/><circle cx="655.4" cy="68.1" r="1.9"/><circle cx="657.6" cy="67.5" r="1.9"/><circle cx="663.1" cy="68.1" r="1.9"/><circle cx="662" cy="69.7" r="1.9"/><circle cx="659.8" cy="72.5" r="1.9"/><circle cx="653.7" cy="75.3" r="1.9"/><circle cx="648.2" cy="78.9" r="1.9"/><circle cx="654.8" cy="79.1" r="1.9"/><circle cx="668.1" cy="77.5" r="1.9"/><circle cx="659.7" cy="72.5" r="1.9"/><circle cx="662.2" cy="71" r="1.9"/><circle cx="663.7" cy="70.5" r="1.9"/><circle cx="653.6" cy="75.5" r="1.9"/><circle cx="654.6" cy="79.1" r="1.9"/><circle cx="648.1" cy="79.6" r="1.9"/><circle cx="657.2" cy="82.6" r="1.9"/><circle cx="667.7" cy="77.5" r="1.9"/><circle cx="666.7" cy="80.6" r="1.9"/><circle cx="667" cy="84.6" r="1.9"/><circle cx="647.6" cy="84.1" r="1.9"/><circle cx="650.1" cy="84.6" r="1.9"/><circle cx="646.1" cy="87.1" r="1.9"/><circle cx="652.6" cy="88.6" r="1.9"/><circle cx="651.6" cy="90.6" r="1.9"/><circle cx="658.2" cy="91.1" r="1.9"/><circle cx="656.2" cy="92.6" r="1.9"/><circle cx="649.1" cy="94.1" r="1.9"/><circle cx="651.6" cy="94.1" r="1.9"/><circle cx="656.7" cy="94.6" r="1.9"/><circle cx="645.6" cy="97.7" r="1.9"/><circle cx="643.1" cy="102.2" r="1.9"/><circle cx="644.1" cy="103.2" r="1.9"/><circle cx="643.1" cy="102.1" r="1.9"/><circle cx="644.3" cy="103.2" r="1.9"/><circle cx="641.7" cy="116.7" r="1.9"/><circle cx="639.9" cy="119" r="1.9"/><circle cx="638.1" cy="120.2" r="1.9"/><circle cx="636.4" cy="121.5" r="1.9"/><circle cx="635.1" cy="126.4" r="1.9"/><circle cx="632.5" cy="130.2" r="1.9"/><circle cx="630.2" cy="133.4" r="1.9"/><circle cx="626.4" cy="136.1" r="1.9"/><circle cx="622.3" cy="144.3" r="1.9"/><circle cx="616.2" cy="148.9" r="1.9"/></g>
<line x1="616.2" y1="164.2" x2="679.4" y2="39.6" stroke="#5f3c99" stroke-width="1.05"/>
<path d="M613.4 32.1V171.1H683" stroke="#141414" stroke-width="1.35" fill="none"/>
<g fill="#141414" font-weight="bold"><text font-size="8.42" transform="matrix(1.02 0 0 1 621.47 29.35)">D</text><text font-size="8.42" transform="matrix(0.92 0 0 1 627.59 29.35)">C</text><text font-size="8.42" transform="matrix(0.92 0 0 1 633.21 29.35)">C</text><text font-size="8.42" transform="matrix(1.13 0 0 1 641.99 29.35)">=</text><text font-size="8.42" transform="matrix(1.15 0 0 1 650.64 29.35)">0</text><text font-size="8.42" transform="matrix(1.13 0 0 1 656.11 29.35)">.</text><text font-size="8.42" transform="matrix(1.15 0 0 1 658.87 29.35)">0</text><text font-size="8.42" transform="matrix(1 0 0 1 664.52 29.35)">3</text><text font-size="8.42" transform="matrix(1.09 0 0 1 669.61 29.35)">9</text></g>
<g fill="#141414" font-weight="bold"><text font-size="8.48" transform="matrix(1.06 0 0 1 644.86 189.5)">D</text></g>
<g fill="#141414" font-weight="bold" transform="translate(593 101.6) rotate(-90)"><text font-size="8.27" transform="matrix(1.18 0 0 1 -8.93 0)">&lt;</text><text font-size="8.27" transform="matrix(0.92 0 0 1 -2.5 0)">S</text><text font-size="8.27" transform="matrix(1.18 0 0 1 3.23 0)">&gt;</text></g>
<rect x="616.6" y="36.4" width="45.8" height="23.3" rx="1.6" fill="#fff" fill-opacity="0.8" stroke="#dcdcdc" stroke-width="0.6"/>
<line x1="618.9" y1="41.9" x2="633.5" y2="41.9" stroke="#8c66b4" stroke-width="1.1"/>
<line x1="618.9" y1="53.3" x2="633.5" y2="53.3" stroke="#8a7aa8" stroke-width="0.85" stroke-dasharray="2.4 1.3"/>
<g fill="#111" font-weight="bold" font-style="italic" class="leg">
<text x="638.6" y="44.8" font-size="7.6" class="beta">β</text>
<text x="643.2" y="45.8" font-size="5.5" textLength="13.4" lengthAdjust="spacingAndGlyphs">pred</text>
<text x="638.6" y="56.2" font-size="7.6" class="beta">β</text>
<text x="643.2" y="57.2" font-size="5.5" textLength="6.8" lengthAdjust="spacingAndGlyphs">fit</text>
</g>
<path d="M52.9 353.88h-1.4 M52.9 351.06h-1.4 M52.9 348.76h-1.4 M52.9 346.81h-1.4 M52.9 345.12h-1.4 M52.9 343.63h-1.4 M52.9 342.3h-2.4 M52.9 333.54h-1.4 M52.9 328.42h-1.4 M52.9 324.78h-1.4 M52.9 321.96h-1.4 M52.9 319.66h-1.4 M52.9 317.71h-1.4 M52.9 316.02h-1.4 M52.9 314.53h-1.4 M52.9 313.2h-2.4 M52.9 304.44h-1.4 M52.9 299.32h-1.4 M52.9 295.68h-1.4 M52.9 292.86h-1.4 M52.9 290.56h-1.4 M52.9 288.61h-1.4 M52.9 286.92h-1.4 M52.9 285.43h-1.4 M52.9 284.1h-2.4 M52.9 275.34h-1.4 M52.9 270.22h-1.4 M52.9 266.58h-1.4 M52.9 263.76h-1.4 M52.9 261.46h-1.4 M52.9 259.51h-1.4 M52.9 257.82h-1.4 M52.9 256.33h-1.4 M52.9 255h-2.4 M52.9 246.24h-1.4 M52.9 241.12h-1.4 M52.9 237.48h-1.4 M52.9 234.66h-1.4 M52.9 232.36h-1.4 M52.9 230.41h-1.4 M52.9 228.72h-1.4 M52.9 227.23h-1.4 M52.9 225.9h-2.4 M74 357v2.4 M110.3 357v2.4" stroke="#555" stroke-width="0.5" fill="none"/>
<g fill="#141414" font-weight="bold"><text font-size="6.97" transform="matrix(1.06 0 0 1 32.5 228.5)">1</text><text font-size="6.97" transform="matrix(1.21 0 0 1 36.85 228.5)">0</text><text font-size="4.88" transform="matrix(1.2 0 0 1 41.78 225.85)">−</text><text font-size="4.88" transform="matrix(1.06 0 0 1 45.66 225.85)">1</text></g>
<g fill="#141414" font-weight="bold"><text font-size="6.97" transform="matrix(1.06 0 0 1 32.58 257.6)">1</text><text font-size="6.97" transform="matrix(1.21 0 0 1 36.94 257.6)">0</text><text font-size="4.88" transform="matrix(1.2 0 0 1 41.87 254.95)">−</text><text font-size="4.88" transform="matrix(1.06 0 0 1 45.74 254.95)">2</text></g>
<g fill="#141414" font-weight="bold"><text font-size="6.97" transform="matrix(1.06 0 0 1 32.55 286.7)">1</text><text font-size="6.97" transform="matrix(1.21 0 0 1 36.9 286.7)">0</text><text font-size="4.88" transform="matrix(1.2 0 0 1 41.83 284.05)">−</text><text font-size="4.88" transform="matrix(1.06 0 0 1 45.7 284.05)">3</text></g>
<g fill="#141414" font-weight="bold"><text font-size="6.97" transform="matrix(1.06 0 0 1 32.39 315.8)">1</text><text font-size="6.97" transform="matrix(1.21 0 0 1 36.75 315.8)">0</text><text font-size="4.88" transform="matrix(1.2 0 0 1 41.68 313.15)">−</text><text font-size="4.88" transform="matrix(1.09 0 0 1 45.48 313.15)">4</text></g>
<g fill="#141414" font-weight="bold"><text font-size="6.97" transform="matrix(1.06 0 0 1 32.5 344.9)">1</text><text font-size="6.97" transform="matrix(1.21 0 0 1 36.86 344.9)">0</text><text font-size="4.88" transform="matrix(1.2 0 0 1 41.79 342.25)">−</text><text font-size="4.88" transform="matrix(1.06 0 0 1 45.67 342.25)">5</text></g>
<g fill="#141414" font-weight="bold"><text font-size="6.97" transform="matrix(1.06 0 0 1 68.03 365.9)">1</text><text font-size="6.97" transform="matrix(1.21 0 0 1 72.39 365.9)">0</text><text font-size="4.88" transform="matrix(1.06 0 0 1 77.27 363.25)">1</text></g>
<g fill="#141414" font-weight="bold"><text font-size="6.97" transform="matrix(1.06 0 0 1 104.35 365.9)">1</text><text font-size="6.97" transform="matrix(1.21 0 0 1 108.71 365.9)">0</text><text font-size="4.88" transform="matrix(1.06 0 0 1 113.58 363.25)">3</text></g>
<g fill="#27399a" fill-opacity="0.5" stroke="#27399a" stroke-opacity="0.72" stroke-width="0.55"><circle cx="73.4" cy="224.5" r="1.05"/><circle cx="73.85" cy="225.33" r="1.05"/><circle cx="74.3" cy="226.17" r="1.05"/><circle cx="74.75" cy="227" r="1.05"/><circle cx="75.2" cy="227.83" r="1.05"/><circle cx="75.65" cy="228.67" r="1.05"/><circle cx="76.1" cy="229.5" r="1.05"/><circle cx="76.5" cy="233.1" r="1.05"/><circle cx="77.5" cy="234.6" r="1.05"/><circle cx="78" cy="237.1" r="1.05"/><circle cx="78.9" cy="238.6" r="1.05"/><circle cx="79.1" cy="241.6" r="1.05"/><circle cx="79.9" cy="243.3" r="1.05"/><circle cx="80.6" cy="245.6" r="1.05"/><circle cx="81.1" cy="247.6" r="1.05"/><circle cx="80.9" cy="252.7" r="1.05"/><circle cx="81.4" cy="254.2" r="1.05"/><circle cx="81.9" cy="256.2" r="1.05"/><circle cx="82.6" cy="258.7" r="1.05"/><circle cx="81.9" cy="258.4" r="1.05"/><circle cx="82.4" cy="261.8" r="1.05"/><circle cx="83" cy="264" r="1.05"/><circle cx="83.6" cy="266.3" r="1.05"/><circle cx="84.1" cy="270.8" r="1.05"/><circle cx="84.7" cy="275.4" r="1.05"/><circle cx="85.6" cy="279" r="1.05"/><circle cx="86.15" cy="279" r="1.05"/><circle cx="86.7" cy="279" r="1.05"/><circle cx="87.25" cy="279" r="1.05"/><circle cx="87.8" cy="279" r="1.05"/><circle cx="85.6" cy="282.5" r="1.05"/><circle cx="86.32" cy="282.5" r="1.05"/><circle cx="87.04" cy="282.5" r="1.05"/><circle cx="87.76" cy="282.5" r="1.05"/><circle cx="88.48" cy="282.5" r="1.05"/><circle cx="89.2" cy="282.5" r="1.05"/><circle cx="85" cy="287.8" r="1.05"/><circle cx="85.74" cy="287.8" r="1.05"/><circle cx="86.49" cy="287.8" r="1.05"/><circle cx="87.23" cy="287.8" r="1.05"/><circle cx="87.98" cy="287.8" r="1.05"/><circle cx="88.72" cy="287.8" r="1.05"/><circle cx="89.47" cy="287.8" r="1.05"/><circle cx="90.21" cy="287.8" r="1.05"/><circle cx="90.96" cy="287.8" r="1.05"/><circle cx="91.7" cy="287.8" r="1.05"/><circle cx="86.2" cy="296.6" r="1.05"/><circle cx="87.56" cy="296.6" r="1.05"/><circle cx="88.92" cy="296.6" r="1.05"/><circle cx="90.28" cy="296.6" r="1.05"/><circle cx="91.63" cy="296.6" r="1.05"/><circle cx="92.99" cy="296.6" r="1.05"/><circle cx="94.35" cy="296.6" r="1.05"/><circle cx="95.71" cy="296.6" r="1.05"/><circle cx="97.07" cy="296.6" r="1.05"/><circle cx="98.42" cy="296.6" r="1.05"/><circle cx="99.78" cy="296.6" r="1.05"/><circle cx="101.14" cy="296.6" r="1.05"/><circle cx="102.5" cy="296.6" r="1.05"/><circle cx="109.9" cy="296.6" r="1.05"/><circle cx="110.59" cy="296.6" r="1.05"/><circle cx="111.28" cy="296.6" r="1.05"/><circle cx="111.98" cy="296.6" r="1.05"/><circle cx="112.67" cy="296.6" r="1.05"/><circle cx="113.36" cy="296.6" r="1.05"/><circle cx="114.05" cy="296.6" r="1.05"/><circle cx="114.75" cy="296.6" r="1.05"/><circle cx="115.44" cy="296.6" r="1.05"/><circle cx="116.13" cy="296.6" r="1.05"/><circle cx="116.82" cy="296.6" r="1.05"/><circle cx="117.52" cy="296.6" r="1.05"/><circle cx="118.21" cy="296.6" r="1.05"/><circle cx="118.9" cy="296.6" r="1.05"/></g>
<line x1="77.7" y1="232" x2="100.4" y2="350.9" stroke="#a8a8a8" stroke-width="0.55"/>
<path d="M52.9 218.3V357H122.9" stroke="#141414" stroke-width="1.35" fill="none"/>
<g fill="#141414" font-weight="bold"><text font-size="8.42" transform="matrix(1.28 0 0 1 67.74 215.55)">τ</text><text font-size="8.42" transform="matrix(1.13 0 0 1 75.64 215.55)">=</text><text font-size="8.42" transform="matrix(1 0 0 1 84.61 215.55)">3</text><text font-size="8.42" transform="matrix(1.13 0 0 1 89.75 215.55)">.</text><text font-size="8.42" transform="matrix(1 0 0 1 92.84 215.55)">2</text><text font-size="8.42" transform="matrix(1.06 0 0 1 97.98 215.55)">7</text><text font-size="8.42" transform="matrix(1 0 0 1 103.5 215.55)">5</text></g>
<g fill="#141414" font-weight="bold"><text font-size="8.48" transform="matrix(0.92 0 0 1 85.34 376.1)">S</text></g>
<g fill="#141414" font-weight="bold" transform="translate(27.1 287.65) rotate(-90)"><text font-size="8.53" transform="matrix(1 0 0 1 -15.47 0)">P</text><text font-size="8.53" transform="matrix(1.06 0 0 1 -9.61 0)">D</text><text font-size="8.53" transform="matrix(0.94 0 0 1 -2.86 0)">F</text><text font-size="8.53" transform="matrix(0.97 0 0 1 2.72 0)">(</text><text font-size="8.53" transform="matrix(0.92 0 0 1 6.43 0)">S</text><text font-size="8.53" transform="matrix(0.97 0 0 1 12.55 0)">)</text></g>
<path d="M159.4 356.17h-1.4 M159.4 354.9h-2.4 M159.4 346.56h-1.4 M159.4 341.68h-1.4 M159.4 338.22h-1.4 M159.4 335.54h-1.4 M159.4 333.35h-1.4 M159.4 331.49h-1.4 M159.4 329.88h-1.4 M159.4 328.47h-1.4 M159.4 327.2h-2.4 M159.4 318.86h-1.4 M159.4 313.98h-1.4 M159.4 310.52h-1.4 M159.4 307.84h-1.4 M159.4 305.65h-1.4 M159.4 303.79h-1.4 M159.4 302.18h-1.4 M159.4 300.77h-1.4 M159.4 299.5h-2.4 M159.4 291.16h-1.4 M159.4 286.28h-1.4 M159.4 282.82h-1.4 M159.4 280.14h-1.4 M159.4 277.95h-1.4 M159.4 276.09h-1.4 M159.4 274.48h-1.4 M159.4 273.07h-1.4 M159.4 271.8h-2.4 M159.4 263.46h-1.4 M159.4 258.58h-1.4 M159.4 255.12h-1.4 M159.4 252.44h-1.4 M159.4 250.25h-1.4 M159.4 248.39h-1.4 M159.4 246.78h-1.4 M159.4 245.37h-1.4 M159.4 244.1h-2.4 M159.4 235.76h-1.4 M159.4 230.88h-1.4 M159.4 227.42h-1.4 M159.4 224.74h-1.4 M159.4 222.55h-1.4 M159.4 220.69h-1.4 M159.4 219.08h-1.4 M159.07 356.8v1.4 M160.65 356.8v1.4 M162.05 356.8v2.4 M171.29 356.8v1.4 M176.7 356.8v1.4 M180.53 356.8v1.4 M183.51 356.8v1.4 M185.94 356.8v1.4 M187.99 356.8v1.4 M189.77 356.8v1.4 M191.35 356.8v1.4 M192.75 356.8v2.4 M201.99 356.8v1.4 M207.4 356.8v1.4 M211.23 356.8v1.4 M214.21 356.8v1.4 M216.64 356.8v1.4 M218.69 356.8v1.4 M220.47 356.8v1.4 M222.05 356.8v1.4 M223.45 356.8v2.4" stroke="#555" stroke-width="0.5" fill="none"/>
<g fill="#141414" font-weight="bold"><text font-size="6.97" transform="matrix(1.06 0 0 1 139 246.7)">1</text><text font-size="6.97" transform="matrix(1.21 0 0 1 143.35 246.7)">0</text><text font-size="4.88" transform="matrix(1.2 0 0 1 148.28 244.05)">−</text><text font-size="4.88" transform="matrix(1.06 0 0 1 152.16 244.05)">1</text></g>
<g fill="#141414" font-weight="bold"><text font-size="6.97" transform="matrix(1.06 0 0 1 139.08 274.4)">1</text><text font-size="6.97" transform="matrix(1.21 0 0 1 143.44 274.4)">0</text><text font-size="4.88" transform="matrix(1.2 0 0 1 148.37 271.75)">−</text><text font-size="4.88" transform="matrix(1.06 0 0 1 152.24 271.75)">2</text></g>
<g fill="#141414" font-weight="bold"><text font-size="6.97" transform="matrix(1.06 0 0 1 139.05 302.1)">1</text><text font-size="6.97" transform="matrix(1.21 0 0 1 143.4 302.1)">0</text><text font-size="4.88" transform="matrix(1.2 0 0 1 148.33 299.45)">−</text><text font-size="4.88" transform="matrix(1.06 0 0 1 152.2 299.45)">3</text></g>
<g fill="#141414" font-weight="bold"><text font-size="6.97" transform="matrix(1.06 0 0 1 138.89 329.8)">1</text><text font-size="6.97" transform="matrix(1.21 0 0 1 143.25 329.8)">0</text><text font-size="4.88" transform="matrix(1.2 0 0 1 148.18 327.15)">−</text><text font-size="4.88" transform="matrix(1.09 0 0 1 151.98 327.15)">4</text></g>
<g fill="#141414" font-weight="bold"><text font-size="6.97" transform="matrix(1.06 0 0 1 139 357.5)">1</text><text font-size="6.97" transform="matrix(1.21 0 0 1 143.36 357.5)">0</text><text font-size="4.88" transform="matrix(1.2 0 0 1 148.29 354.85)">−</text><text font-size="4.88" transform="matrix(1.06 0 0 1 152.17 354.85)">5</text></g>
<g fill="#141414" font-weight="bold"><text font-size="6.97" transform="matrix(1.06 0 0 1 156.03 365.7)">1</text><text font-size="6.97" transform="matrix(1.21 0 0 1 160.39 365.7)">0</text><text font-size="4.88" transform="matrix(1.21 0 0 1 165.05 363.05)">0</text></g>
<g fill="#141414" font-weight="bold"><text font-size="6.97" transform="matrix(1.06 0 0 1 186.78 365.7)">1</text><text font-size="6.97" transform="matrix(1.21 0 0 1 191.14 365.7)">0</text><text font-size="4.88" transform="matrix(1.06 0 0 1 196.02 363.05)">1</text></g>
<g fill="#141414" font-weight="bold"><text font-size="6.97" transform="matrix(1.06 0 0 1 217.52 365.7)">1</text><text font-size="6.97" transform="matrix(1.21 0 0 1 221.88 365.7)">0</text><text font-size="4.88" transform="matrix(1.06 0 0 1 226.75 363.05)">2</text></g>
<g fill="#45bcbf" fill-opacity="0.72" stroke="#45bcbf" stroke-opacity="0.8" stroke-width="0.55"><circle cx="171.4" cy="225.3" r="1.05"/><circle cx="177" cy="233.3" r="1.05"/><circle cx="180.9" cy="242.1" r="1.05"/><circle cx="183.8" cy="249.8" r="1.05"/><circle cx="186.1" cy="258.8" r="1.05"/><circle cx="188.3" cy="263.8" r="1.05"/><circle cx="190.2" cy="271.9" r="1.05"/><circle cx="191.7" cy="277.6" r="1.05"/><circle cx="193.3" cy="281" r="1.05"/><circle cx="195.6" cy="287.3" r="1.05"/><circle cx="194.1" cy="291.3" r="1.05"/><circle cx="196.6" cy="291.3" r="1.05"/><circle cx="198.4" cy="291.3" r="1.05"/><circle cx="199.4" cy="302.6" r="1.05"/><circle cx="201.1" cy="302.6" r="1.05"/><circle cx="204.4" cy="302.6" r="1.05"/><circle cx="219.7" cy="302.6" r="1.05"/><circle cx="200.9" cy="311.2" r="1.05"/><circle cx="202.9" cy="311.2" r="1.05"/><circle cx="205.9" cy="311.2" r="1.05"/><circle cx="207.9" cy="311.2" r="1.05"/><circle cx="214.3" cy="311.2" r="1.05"/><circle cx="215.46" cy="311.2" r="1.05"/><circle cx="216.62" cy="311.2" r="1.05"/><circle cx="217.78" cy="311.2" r="1.05"/><circle cx="218.94" cy="311.2" r="1.05"/><circle cx="220.1" cy="311.2" r="1.05"/><circle cx="221.26" cy="311.2" r="1.05"/><circle cx="222.42" cy="311.2" r="1.05"/><circle cx="223.58" cy="311.2" r="1.05"/><circle cx="224.74" cy="311.2" r="1.05"/><circle cx="225.9" cy="311.2" r="1.05"/></g>
<line x1="177" y1="233.3" x2="219.7" y2="350.9" stroke="#a8a8a8" stroke-width="0.55"/>
<path d="M159.4 218.3V356.8H229.3" stroke="#141414" stroke-width="1.35" fill="none"/>
<g fill="#141414" font-weight="bold"><text font-size="8.42" transform="matrix(0.96 0 0 1 173.93 215.55)">α</text><text font-size="8.42" transform="matrix(1.13 0 0 1 182.21 215.55)">=</text><text font-size="8.42" transform="matrix(1 0 0 1 191.18 215.55)">3</text><text font-size="8.42" transform="matrix(1.13 0 0 1 196.32 215.55)">.</text><text font-size="8.42" transform="matrix(1.15 0 0 1 199.08 215.55)">0</text><text font-size="8.42" transform="matrix(1.09 0 0 1 204.5 215.55)">9</text><text font-size="8.42" transform="matrix(1 0 0 1 210.06 215.55)">3</text></g>
<g fill="#141414" font-weight="bold"><text font-size="8.48" transform="matrix(1.06 0 0 1 191.01 375.9)">D</text></g>
<g fill="#141414" font-weight="bold" transform="translate(134 287.55) rotate(-90)"><text font-size="8.53" transform="matrix(1 0 0 1 -15.92 0)">P</text><text font-size="8.53" transform="matrix(1.06 0 0 1 -10.05 0)">D</text><text font-size="8.53" transform="matrix(0.94 0 0 1 -3.3 0)">F</text><text font-size="8.53" transform="matrix(0.97 0 0 1 2.28 0)">(</text><text font-size="8.53" transform="matrix(1.06 0 0 1 5.81 0)">D</text><text font-size="8.53" transform="matrix(0.97 0 0 1 12.99 0)">)</text></g>
<path d="M265.3 355.51h-1.4 M265.3 350.25h-1.4 M265.3 346.17h-1.4 M265.3 342.84h-1.4 M265.3 340.02h-1.4 M265.3 337.58h-1.4 M265.3 335.43h-1.4 M265.3 333.5h-2.4 M265.3 320.83h-1.4 M265.3 313.41h-1.4 M265.3 308.15h-1.4 M265.3 304.07h-1.4 M265.3 300.74h-1.4 M265.3 297.92h-1.4 M265.3 295.48h-1.4 M265.3 293.33h-1.4 M265.3 291.4h-2.4 M265.3 278.73h-1.4 M265.3 271.31h-1.4 M265.3 266.05h-1.4 M265.3 261.97h-1.4 M265.3 258.64h-1.4 M265.3 255.82h-1.4 M265.3 253.38h-1.4 M265.3 251.23h-1.4 M265.3 249.3h-2.4 M265.3 236.63h-1.4 M265.3 229.21h-1.4 M265.3 223.95h-1.4 M265.3 219.87h-1.4 M268.98 357.2v1.4 M275.28 357.2v1.4 M279.75 357.2v1.4 M283.22 357.2v1.4 M286.06 357.2v1.4 M288.45 357.2v1.4 M290.53 357.2v1.4 M292.36 357.2v1.4 M294 357.2v2.4 M304.78 357.2v1.4 M311.08 357.2v1.4 M315.55 357.2v1.4 M319.02 357.2v1.4 M321.86 357.2v1.4 M324.25 357.2v1.4 M326.33 357.2v1.4 M328.16 357.2v1.4 M329.8 357.2v2.4" stroke="#555" stroke-width="0.5" fill="none"/>
<g fill="#141414" font-weight="bold"><text font-size="6.97" transform="matrix(1.06 0 0 1 248.88 251.9)">1</text><text font-size="6.97" transform="matrix(1.21 0 0 1 253.23 251.9)">0</text><text font-size="4.88" transform="matrix(1.06 0 0 1 258.1 249.25)">3</text></g>
<g fill="#141414" font-weight="bold"><text font-size="6.97" transform="matrix(1.06 0 0 1 248.91 294)">1</text><text font-size="6.97" transform="matrix(1.21 0 0 1 253.27 294)">0</text><text font-size="4.88" transform="matrix(1.06 0 0 1 258.14 291.35)">2</text></g>
<g fill="#141414" font-weight="bold"><text font-size="6.97" transform="matrix(1.06 0 0 1 248.83 336.1)">1</text><text font-size="6.97" transform="matrix(1.21 0 0 1 253.18 336.1)">0</text><text font-size="4.88" transform="matrix(1.06 0 0 1 258.06 333.45)">1</text></g>
<g fill="#141414" font-weight="bold"><text font-size="6.97" transform="matrix(1.06 0 0 1 288.03 366.1)">1</text><text font-size="6.97" transform="matrix(1.21 0 0 1 292.39 366.1)">0</text><text font-size="4.88" transform="matrix(1.06 0 0 1 297.27 363.45)">1</text></g>
<g fill="#141414" font-weight="bold"><text font-size="6.97" transform="matrix(1.06 0 0 1 323.87 366.1)">1</text><text font-size="6.97" transform="matrix(1.21 0 0 1 328.23 366.1)">0</text><text font-size="4.88" transform="matrix(1.06 0 0 1 333.1 363.45)">2</text></g>
<line x1="268.9" y1="350.4" x2="332.9" y2="225.3" stroke="#6f5e98" stroke-width="0.8" stroke-dasharray="2.4 1.4"/>
<g fill="#f0832a" fill-opacity="0.85"><circle cx="330.7" cy="229" r="1.9"/><circle cx="332.3" cy="231.2" r="1.9"/><circle cx="330.2" cy="231.7" r="1.9"/><circle cx="325" cy="233.9" r="1.9"/><circle cx="326.2" cy="236.2" r="1.9"/><circle cx="323.9" cy="238" r="1.9"/><circle cx="322.3" cy="239.6" r="1.9"/><circle cx="320" cy="243.4" r="1.9"/><circle cx="303.5" cy="248.6" r="1.9"/><circle cx="306.9" cy="257.7" r="1.9"/><circle cx="301.3" cy="261.8" r="1.9"/><circle cx="318.2" cy="267.9" r="1.9"/><circle cx="310.8" cy="273.1" r="1.9"/><circle cx="300.1" cy="275.8" r="1.9"/><circle cx="306.2" cy="278.5" r="1.9"/><circle cx="268.9" cy="331" r="1.9"/><circle cx="275.2" cy="326" r="1.9"/><circle cx="279.7" cy="321.5" r="1.9"/><circle cx="283.5" cy="318.2" r="1.9"/><circle cx="285.8" cy="314.7" r="1.9"/><circle cx="287.8" cy="312.7" r="1.9"/><circle cx="290.3" cy="310.2" r="1.9"/><circle cx="292.3" cy="304.4" r="1.9"/><circle cx="294.8" cy="303.9" r="1.9"/><circle cx="296.6" cy="302.1" r="1.9"/><circle cx="299.1" cy="298.1" r="1.9"/><circle cx="302.9" cy="294.3" r="1.9"/></g>
<line x1="268.9" y1="329.7" x2="332.9" y2="260.6" stroke="#5f3c99" stroke-width="1.05"/>
<path d="M265.3 218.3V357.2H335.8" stroke="#141414" stroke-width="1.35" fill="none"/>
<g fill="#141414" font-weight="bold"><text font-size="8.42" transform="matrix(1.02 0 0 1 273.84 215.55)">D</text><text font-size="8.42" transform="matrix(0.92 0 0 1 279.96 215.55)">C</text><text font-size="8.42" transform="matrix(0.92 0 0 1 285.58 215.55)">C</text><text font-size="8.42" transform="matrix(1.13 0 0 1 294.37 215.55)">=</text><text font-size="8.42" transform="matrix(1.15 0 0 1 303.01 215.55)">0</text><text font-size="8.42" transform="matrix(1.13 0 0 1 308.48 215.55)">.</text><text font-size="8.42" transform="matrix(1.06 0 0 1 311.38 215.55)">7</text><text font-size="8.42" transform="matrix(1.09 0 0 1 316.71 215.55)">6</text><text font-size="8.42" transform="matrix(1 0 0 1 322.23 215.55)">5</text></g>
<g fill="#141414" font-weight="bold"><text font-size="8.48" transform="matrix(1.06 0 0 1 297.21 376.3)">D</text></g>
<g fill="#141414" font-weight="bold" transform="translate(244.9 287.75) rotate(-90)"><text font-size="8.27" transform="matrix(1.18 0 0 1 -8.93 0)">&lt;</text><text font-size="8.27" transform="matrix(0.92 0 0 1 -2.5 0)">S</text><text font-size="8.27" transform="matrix(1.18 0 0 1 3.23 0)">&gt;</text></g>
<rect x="269.1" y="222.2" width="45.7" height="24" rx="1.6" fill="#fff" fill-opacity="0.8" stroke="#dcdcdc" stroke-width="0.6"/>
<line x1="271.4" y1="227.7" x2="286" y2="227.7" stroke="#8c66b4" stroke-width="1.1"/>
<line x1="271.4" y1="239.1" x2="286" y2="239.1" stroke="#8a7aa8" stroke-width="0.85" stroke-dasharray="2.4 1.3"/>
<g fill="#111" font-weight="bold" font-style="italic" class="leg">
<text x="291.1" y="230.6" font-size="7.6" class="beta">β</text>
<text x="295.7" y="231.6" font-size="5.5" textLength="13.4" lengthAdjust="spacingAndGlyphs">pred</text>
<text x="291.1" y="242" font-size="7.6" class="beta">β</text>
<text x="295.7" y="243" font-size="5.5" textLength="6.8" lengthAdjust="spacingAndGlyphs">fit</text>
</g>
<path d="M401.8 358.38h-1.4 M401.8 354.66h-1.4 M401.8 351.62h-1.4 M401.8 349.05h-1.4 M401.8 346.82h-1.4 M401.8 344.86h-1.4 M401.8 343.1h-2.4 M401.8 331.54h-1.4 M401.8 324.78h-1.4 M401.8 319.98h-1.4 M401.8 316.26h-1.4 M401.8 313.22h-1.4 M401.8 310.65h-1.4 M401.8 308.42h-1.4 M401.8 306.46h-1.4 M401.8 304.7h-2.4 M401.8 293.14h-1.4 M401.8 286.38h-1.4 M401.8 281.58h-1.4 M401.8 277.86h-1.4 M401.8 274.82h-1.4 M401.8 272.25h-1.4 M401.8 270.02h-1.4 M401.8 268.06h-1.4 M401.8 266.3h-2.4 M401.8 254.74h-1.4 M401.8 247.98h-1.4 M401.8 243.18h-1.4 M401.8 239.46h-1.4 M401.8 236.42h-1.4 M401.8 233.85h-1.4 M401.8 231.62h-1.4 M401.8 229.66h-1.4 M401.8 227.9h-2.4 M425.25 358.7v2.4 M465.35 358.7v2.4" stroke="#555" stroke-width="0.5" fill="none"/>
<g fill="#141414" font-weight="bold"><text font-size="6.97" transform="matrix(1.06 0 0 1 381.4 230.5)">1</text><text font-size="6.97" transform="matrix(1.21 0 0 1 385.75 230.5)">0</text><text font-size="4.88" transform="matrix(1.2 0 0 1 390.68 227.85)">−</text><text font-size="4.88" transform="matrix(1.06 0 0 1 394.56 227.85)">1</text></g>
<g fill="#141414" font-weight="bold"><text font-size="6.97" transform="matrix(1.06 0 0 1 381.48 268.9)">1</text><text font-size="6.97" transform="matrix(1.21 0 0 1 385.84 268.9)">0</text><text font-size="4.88" transform="matrix(1.2 0 0 1 390.77 266.25)">−</text><text font-size="4.88" transform="matrix(1.06 0 0 1 394.64 266.25)">2</text></g>
<g fill="#141414" font-weight="bold"><text font-size="6.97" transform="matrix(1.06 0 0 1 381.45 307.3)">1</text><text font-size="6.97" transform="matrix(1.21 0 0 1 385.8 307.3)">0</text><text font-size="4.88" transform="matrix(1.2 0 0 1 390.73 304.65)">−</text><text font-size="4.88" transform="matrix(1.06 0 0 1 394.6 304.65)">3</text></g>
<g fill="#141414" font-weight="bold"><text font-size="6.97" transform="matrix(1.06 0 0 1 381.29 345.7)">1</text><text font-size="6.97" transform="matrix(1.21 0 0 1 385.65 345.7)">0</text><text font-size="4.88" transform="matrix(1.2 0 0 1 390.58 343.05)">−</text><text font-size="4.88" transform="matrix(1.09 0 0 1 394.38 343.05)">4</text></g>
<g fill="#141414" font-weight="bold"><text font-size="6.97" transform="matrix(1.06 0 0 1 419.28 367.6)">1</text><text font-size="6.97" transform="matrix(1.21 0 0 1 423.64 367.6)">0</text><text font-size="4.88" transform="matrix(1.06 0 0 1 428.52 364.95)">1</text></g>
<g fill="#141414" font-weight="bold"><text font-size="6.97" transform="matrix(1.06 0 0 1 459.4 367.6)">1</text><text font-size="6.97" transform="matrix(1.21 0 0 1 463.76 367.6)">0</text><text font-size="4.88" transform="matrix(1.06 0 0 1 468.63 364.95)">3</text></g>
<g fill="#27399a" fill-opacity="0.5" stroke="#27399a" stroke-opacity="0.72" stroke-width="0.55"><circle cx="418.5" cy="226.5" r="1.05"/><circle cx="419.5" cy="227.2" r="1.05"/><circle cx="420.5" cy="228.2" r="1.05"/><circle cx="421.5" cy="229.5" r="1.05"/><circle cx="422.5" cy="231" r="1.05"/><circle cx="423.2" cy="232.6" r="1.05"/><circle cx="424" cy="234.6" r="1.05"/><circle cx="424.9" cy="236.1" r="1.05"/><circle cx="425.9" cy="237.6" r="1.05"/><circle cx="426.6" cy="242.1" r="1.05"/><circle cx="427.6" cy="243.1" r="1.05"/><circle cx="428.6" cy="246.6" r="1.05"/><circle cx="428.1" cy="247.9" r="1.05"/><circle cx="429.6" cy="248.6" r="1.05"/><circle cx="429.9" cy="251.6" r="1.05"/><circle cx="430.1" cy="256.7" r="1.05"/><circle cx="431.1" cy="257.2" r="1.05"/><circle cx="431.6" cy="260.7" r="1.05"/><circle cx="431.1" cy="261.7" r="1.05"/><circle cx="431.3" cy="261.3" r="1.05"/><circle cx="432.2" cy="262.5" r="1.05"/><circle cx="431.8" cy="269.4" r="1.05"/><circle cx="432.8" cy="270.1" r="1.05"/><circle cx="434" cy="271.3" r="1.05"/><circle cx="433.4" cy="273.2" r="1.05"/><circle cx="435.3" cy="273.8" r="1.05"/><circle cx="435.1" cy="280.8" r="1.05"/><circle cx="435.6" cy="283.3" r="1.05"/><circle cx="436.3" cy="285.2" r="1.05"/><circle cx="434.7" cy="285.8" r="1.05"/><circle cx="438.4" cy="284.5" r="1.05"/><circle cx="438.1" cy="287.7" r="1.05"/><circle cx="439.3" cy="289.2" r="1.05"/><circle cx="440.3" cy="288.9" r="1.05"/><circle cx="441" cy="290.2" r="1.05"/><circle cx="439.7" cy="292.7" r="1.05"/><circle cx="436.6" cy="294.6" r="1.05"/><circle cx="437.8" cy="295.8" r="1.05"/><circle cx="441.6" cy="296.5" r="1.05"/><circle cx="442.8" cy="299" r="1.05"/><circle cx="442.6" cy="299.2" r="1.05"/><circle cx="439" cy="302.3" r="1.05"/><circle cx="442.3" cy="302.3" r="1.05"/><circle cx="445.6" cy="302.3" r="1.05"/><circle cx="437.4" cy="305.9" r="1.05"/><circle cx="438.15" cy="305.9" r="1.05"/><circle cx="438.91" cy="305.9" r="1.05"/><circle cx="439.66" cy="305.9" r="1.05"/><circle cx="440.42" cy="305.9" r="1.05"/><circle cx="441.17" cy="305.9" r="1.05"/><circle cx="441.93" cy="305.9" r="1.05"/><circle cx="442.68" cy="305.9" r="1.05"/><circle cx="443.44" cy="305.9" r="1.05"/><circle cx="444.19" cy="305.9" r="1.05"/><circle cx="444.95" cy="305.9" r="1.05"/><circle cx="445.7" cy="305.9" r="1.05"/><circle cx="439.7" cy="310.9" r="1.05"/><circle cx="441.93" cy="310.9" r="1.05"/><circle cx="444.17" cy="310.9" r="1.05"/><circle cx="446.4" cy="310.9" r="1.05"/><circle cx="440.4" cy="317.6" r="1.05"/><circle cx="441.22" cy="317.6" r="1.05"/><circle cx="442.04" cy="317.6" r="1.05"/><circle cx="442.86" cy="317.6" r="1.05"/><circle cx="443.68" cy="317.6" r="1.05"/><circle cx="444.5" cy="317.6" r="1.05"/><circle cx="445.32" cy="317.6" r="1.05"/><circle cx="446.14" cy="317.6" r="1.05"/><circle cx="446.96" cy="317.6" r="1.05"/><circle cx="447.78" cy="317.6" r="1.05"/><circle cx="448.6" cy="317.6" r="1.05"/><circle cx="449.42" cy="317.6" r="1.05"/><circle cx="450.24" cy="317.6" r="1.05"/><circle cx="451.06" cy="317.6" r="1.05"/><circle cx="451.88" cy="317.6" r="1.05"/><circle cx="452.7" cy="317.6" r="1.05"/><circle cx="459.5" cy="317.6" r="1.05"/><circle cx="460.5" cy="317.6" r="1.05"/><circle cx="461.5" cy="317.6" r="1.05"/><circle cx="441.5" cy="329.2" r="1.05"/><circle cx="442.3" cy="329.2" r="1.05"/><circle cx="443.09" cy="329.2" r="1.05"/><circle cx="443.89" cy="329.2" r="1.05"/><circle cx="444.69" cy="329.2" r="1.05"/><circle cx="445.48" cy="329.2" r="1.05"/><circle cx="446.28" cy="329.2" r="1.05"/><circle cx="447.08" cy="329.2" r="1.05"/><circle cx="447.88" cy="329.2" r="1.05"/><circle cx="448.67" cy="329.2" r="1.05"/><circle cx="449.47" cy="329.2" r="1.05"/><circle cx="450.27" cy="329.2" r="1.05"/><circle cx="451.06" cy="329.2" r="1.05"/><circle cx="451.86" cy="329.2" r="1.05"/><circle cx="452.66" cy="329.2" r="1.05"/><circle cx="453.45" cy="329.2" r="1.05"/><circle cx="454.25" cy="329.2" r="1.05"/><circle cx="455.05" cy="329.2" r="1.05"/><circle cx="455.85" cy="329.2" r="1.05"/><circle cx="456.64" cy="329.2" r="1.05"/><circle cx="457.44" cy="329.2" r="1.05"/><circle cx="458.24" cy="329.2" r="1.05"/><circle cx="459.03" cy="329.2" r="1.05"/><circle cx="459.83" cy="329.2" r="1.05"/><circle cx="460.63" cy="329.2" r="1.05"/><circle cx="461.42" cy="329.2" r="1.05"/><circle cx="462.22" cy="329.2" r="1.05"/><circle cx="463.02" cy="329.2" r="1.05"/><circle cx="463.82" cy="329.2" r="1.05"/><circle cx="464.61" cy="329.2" r="1.05"/><circle cx="465.41" cy="329.2" r="1.05"/><circle cx="466.21" cy="329.2" r="1.05"/><circle cx="467" cy="329.2" r="1.05"/><circle cx="467.8" cy="329.2" r="1.05"/></g>
<line x1="420.8" y1="225" x2="454.7" y2="352" stroke="#a8a8a8" stroke-width="0.55"/>
<path d="M401.8 220.3V358.7H471" stroke="#141414" stroke-width="1.35" fill="none"/>
<g fill="#141414" font-weight="bold"><text font-size="8.42" transform="matrix(1.28 0 0 1 416.31 217.55)">τ</text><text font-size="8.42" transform="matrix(1.13 0 0 1 424.2 217.55)">=</text><text font-size="8.42" transform="matrix(1 0 0 1 433.18 217.55)">2</text><text font-size="8.42" transform="matrix(1.13 0 0 1 438.32 217.55)">.</text><text font-size="8.42" transform="matrix(1 0 0 1 441.42 217.55)">1</text><text font-size="8.42" transform="matrix(1 0 0 1 446.74 217.55)">1</text><text font-size="8.42" transform="matrix(1 0 0 1 452.05 217.55)">2</text></g>
<g fill="#141414" font-weight="bold"><text font-size="8.48" transform="matrix(0.92 0 0 1 433.84 377.8)">S</text></g>
<g fill="#141414" font-weight="bold" transform="translate(376.4 289.5) rotate(-90)"><text font-size="8.53" transform="matrix(1 0 0 1 -15.47 0)">P</text><text font-size="8.53" transform="matrix(1.06 0 0 1 -9.61 0)">D</text><text font-size="8.53" transform="matrix(0.94 0 0 1 -2.86 0)">F</text><text font-size="8.53" transform="matrix(0.97 0 0 1 2.72 0)">(</text><text font-size="8.53" transform="matrix(0.92 0 0 1 6.43 0)">S</text><text font-size="8.53" transform="matrix(0.97 0 0 1 12.55 0)">)</text></g>
<path d="M508.6 358.51h-1.4 M508.6 356.21h-1.4 M508.6 354.22h-1.4 M508.6 352.47h-1.4 M508.6 350.9h-2.4 M508.6 340.57h-1.4 M508.6 334.53h-1.4 M508.6 330.25h-1.4 M508.6 326.93h-1.4 M508.6 324.21h-1.4 M508.6 321.91h-1.4 M508.6 319.92h-1.4 M508.6 318.17h-1.4 M508.6 316.6h-2.4 M508.6 306.27h-1.4 M508.6 300.23h-1.4 M508.6 295.95h-1.4 M508.6 292.63h-1.4 M508.6 289.91h-1.4 M508.6 287.61h-1.4 M508.6 285.62h-1.4 M508.6 283.87h-1.4 M508.6 282.3h-2.4 M508.6 271.97h-1.4 M508.6 265.93h-1.4 M508.6 261.65h-1.4 M508.6 258.33h-1.4 M508.6 255.61h-1.4 M508.6 253.31h-1.4 M508.6 251.32h-1.4 M508.6 249.57h-1.4 M508.6 248h-2.4 M508.6 237.67h-1.4 M508.6 231.63h-1.4 M508.6 227.35h-1.4 M508.6 224.03h-1.4 M508.6 221.31h-1.4 M508.3 358.8v1.4 M509.99 358.8v1.4 M511.5 358.8v2.4 M521.43 358.8v1.4 M527.25 358.8v1.4 M531.37 358.8v1.4 M534.57 358.8v1.4 M537.18 358.8v1.4 M539.39 358.8v1.4 M541.3 358.8v1.4 M542.99 358.8v1.4 M544.5 358.8v2.4 M554.43 358.8v1.4 M560.25 358.8v1.4 M564.37 358.8v1.4 M567.57 358.8v1.4 M570.18 358.8v1.4 M572.39 358.8v1.4 M574.3 358.8v1.4 M575.99 358.8v1.4 M577.5 358.8v2.4" stroke="#555" stroke-width="0.5" fill="none"/>
<g fill="#141414" font-weight="bold"><text font-size="6.97" transform="matrix(1.06 0 0 1 488.2 250.6)">1</text><text font-size="6.97" transform="matrix(1.21 0 0 1 492.55 250.6)">0</text><text font-size="4.88" transform="matrix(1.2 0 0 1 497.48 247.95)">−</text><text font-size="4.88" transform="matrix(1.06 0 0 1 501.36 247.95)">1</text></g>
<g fill="#141414" font-weight="bold"><text font-size="6.97" transform="matrix(1.06 0 0 1 488.28 284.9)">1</text><text font-size="6.97" transform="matrix(1.21 0 0 1 492.64 284.9)">0</text><text font-size="4.88" transform="matrix(1.2 0 0 1 497.57 282.25)">−</text><text font-size="4.88" transform="matrix(1.06 0 0 1 501.44 282.25)">2</text></g>
<g fill="#141414" font-weight="bold"><text font-size="6.97" transform="matrix(1.06 0 0 1 488.25 319.2)">1</text><text font-size="6.97" transform="matrix(1.21 0 0 1 492.6 319.2)">0</text><text font-size="4.88" transform="matrix(1.2 0 0 1 497.53 316.55)">−</text><text font-size="4.88" transform="matrix(1.06 0 0 1 501.4 316.55)">3</text></g>
<g fill="#141414" font-weight="bold"><text font-size="6.97" transform="matrix(1.06 0 0 1 488.09 353.5)">1</text><text font-size="6.97" transform="matrix(1.21 0 0 1 492.45 353.5)">0</text><text font-size="4.88" transform="matrix(1.2 0 0 1 497.38 350.85)">−</text><text font-size="4.88" transform="matrix(1.09 0 0 1 501.18 350.85)">4</text></g>
<g fill="#141414" font-weight="bold"><text font-size="6.97" transform="matrix(1.06 0 0 1 505.48 367.7)">1</text><text font-size="6.97" transform="matrix(1.21 0 0 1 509.84 367.7)">0</text><text font-size="4.88" transform="matrix(1.21 0 0 1 514.5 365.05)">0</text></g>
<g fill="#141414" font-weight="bold"><text font-size="6.97" transform="matrix(1.06 0 0 1 538.53 367.7)">1</text><text font-size="6.97" transform="matrix(1.21 0 0 1 542.89 367.7)">0</text><text font-size="4.88" transform="matrix(1.06 0 0 1 547.77 365.05)">1</text></g>
<g fill="#141414" font-weight="bold"><text font-size="6.97" transform="matrix(1.06 0 0 1 571.57 367.7)">1</text><text font-size="6.97" transform="matrix(1.21 0 0 1 575.93 367.7)">0</text><text font-size="4.88" transform="matrix(1.06 0 0 1 580.8 365.05)">2</text></g>
<g fill="#45bcbf" fill-opacity="0.72" stroke="#45bcbf" stroke-opacity="0.8" stroke-width="0.55"><circle cx="521.8" cy="226.7" r="1.05"/><circle cx="527.3" cy="233.9" r="1.05"/><circle cx="531.6" cy="245.6" r="1.05"/><circle cx="534.4" cy="258.2" r="1.05"/><circle cx="537.3" cy="267.8" r="1.05"/><circle cx="539.7" cy="271.4" r="1.05"/><circle cx="541.6" cy="273.3" r="1.05"/><circle cx="542.4" cy="274.5" r="1.05"/><circle cx="543.5" cy="282.1" r="1.05"/><circle cx="545.2" cy="286.2" r="1.05"/><circle cx="546.4" cy="285.7" r="1.05"/><circle cx="546.9" cy="294.1" r="1.05"/><circle cx="549" cy="295.6" r="1.05"/><circle cx="550.8" cy="298.6" r="1.05"/><circle cx="552" cy="300.1" r="1.05"/><circle cx="552.9" cy="309.2" r="1.05"/><circle cx="555" cy="309.8" r="1.05"/><circle cx="557.4" cy="308.6" r="1.05"/><circle cx="555" cy="317.6" r="1.05"/><circle cx="558" cy="317.6" r="1.05"/><circle cx="560.4" cy="317.6" r="1.05"/><circle cx="566.5" cy="317.6" r="1.05"/><circle cx="560.4" cy="322.8" r="1.05"/><circle cx="562" cy="328.2" r="1.05"/><circle cx="565" cy="328.2" r="1.05"/><circle cx="570.4" cy="328.2" r="1.05"/><circle cx="561.3" cy="338.7" r="1.05"/><circle cx="561.94" cy="338.7" r="1.05"/><circle cx="562.59" cy="338.7" r="1.05"/><circle cx="563.23" cy="338.7" r="1.05"/><circle cx="563.88" cy="338.7" r="1.05"/><circle cx="564.52" cy="338.7" r="1.05"/><circle cx="565.17" cy="338.7" r="1.05"/><circle cx="565.81" cy="338.7" r="1.05"/><circle cx="566.46" cy="338.7" r="1.05"/><circle cx="567.1" cy="338.7" r="1.05"/><circle cx="572.5" cy="338.7" r="1.05"/><circle cx="574.9" cy="338.7" r="1.05"/></g>
<line x1="527.3" y1="233.9" x2="568" y2="352" stroke="#a8a8a8" stroke-width="0.55"/>
<path d="M508.6 220.3V358.8H577.7" stroke="#141414" stroke-width="1.35" fill="none"/>
<g fill="#141414" font-weight="bold"><text font-size="8.42" transform="matrix(0.96 0 0 1 522.67 217.55)">α</text><text font-size="8.42" transform="matrix(1.13 0 0 1 530.95 217.55)">=</text><text font-size="8.42" transform="matrix(1 0 0 1 539.92 217.55)">2</text><text font-size="8.42" transform="matrix(1.13 0 0 1 545.06 217.55)">.</text><text font-size="8.42" transform="matrix(1.06 0 0 1 547.96 217.55)">7</text><text font-size="8.42" transform="matrix(1 0 0 1 553.48 217.55)">3</text><text font-size="8.42" transform="matrix(1.09 0 0 1 558.56 217.55)">9</text></g>
<g fill="#141414" font-weight="bold"><text font-size="8.48" transform="matrix(1.06 0 0 1 539.81 377.9)">D</text></g>
<g fill="#141414" font-weight="bold" transform="translate(483.2 289.55) rotate(-90)"><text font-size="8.53" transform="matrix(1 0 0 1 -15.92 0)">P</text><text font-size="8.53" transform="matrix(1.06 0 0 1 -10.05 0)">D</text><text font-size="8.53" transform="matrix(0.94 0 0 1 -3.3 0)">F</text><text font-size="8.53" transform="matrix(0.97 0 0 1 2.28 0)">(</text><text font-size="8.53" transform="matrix(1.06 0 0 1 5.81 0)">D</text><text font-size="8.53" transform="matrix(0.97 0 0 1 12.99 0)">)</text></g>
<path d="M615.7 355.42h-1.4 M615.7 350.59h-1.4 M615.7 346.65h-1.4 M615.7 343.31h-1.4 M615.7 340.43h-1.4 M615.7 337.88h-1.4 M615.7 335.6h-2.4 M615.7 320.61h-1.4 M615.7 311.84h-1.4 M615.7 305.62h-1.4 M615.7 300.79h-1.4 M615.7 296.85h-1.4 M615.7 293.51h-1.4 M615.7 290.63h-1.4 M615.7 288.08h-1.4 M615.7 285.8h-2.4 M615.7 270.81h-1.4 M615.7 262.04h-1.4 M615.7 255.82h-1.4 M615.7 250.99h-1.4 M615.7 247.05h-1.4 M615.7 243.71h-1.4 M615.7 240.83h-1.4 M615.7 238.28h-1.4 M615.7 236h-2.4 M615.7 221.01h-1.4 M619.66 359v1.4 M625.9 359v1.4 M630.75 359v1.4 M634.71 359v1.4 M638.05 359v1.4 M640.95 359v1.4 M643.51 359v1.4 M645.8 359v2.4 M660.85 359v1.4 M669.66 359v1.4 M675.9 359v1.4 M680.75 359v1.4 M684.71 359v1.4" stroke="#555" stroke-width="0.5" fill="none"/>
<g fill="#141414" font-weight="bold"><text font-size="6.97" transform="matrix(1.06 0 0 1 599.28 238.6)">1</text><text font-size="6.97" transform="matrix(1.21 0 0 1 603.63 238.6)">0</text><text font-size="4.88" transform="matrix(1.06 0 0 1 608.5 235.95)">3</text></g>
<g fill="#141414" font-weight="bold"><text font-size="6.97" transform="matrix(1.06 0 0 1 599.31 288.4)">1</text><text font-size="6.97" transform="matrix(1.21 0 0 1 603.67 288.4)">0</text><text font-size="4.88" transform="matrix(1.06 0 0 1 608.54 285.75)">2</text></g>
<g fill="#141414" font-weight="bold"><text font-size="6.97" transform="matrix(1.06 0 0 1 599.23 338.2)">1</text><text font-size="6.97" transform="matrix(1.21 0 0 1 603.58 338.2)">0</text><text font-size="4.88" transform="matrix(1.06 0 0 1 608.46 335.55)">1</text></g>
<g fill="#141414" font-weight="bold"><text font-size="6.97" transform="matrix(1.06 0 0 1 639.83 367.9)">1</text><text font-size="6.97" transform="matrix(1.21 0 0 1 644.19 367.9)">0</text><text font-size="4.88" transform="matrix(1.06 0 0 1 649.07 365.25)">1</text></g>
<g fill="#f0832a" fill-opacity="0.85"><circle cx="681.2" cy="230.5" r="1.9"/><circle cx="677.7" cy="232" r="1.9"/><circle cx="676.7" cy="232" r="1.9"/><circle cx="673.7" cy="231.7" r="1.9"/><circle cx="667.9" cy="232.9" r="1.9"/><circle cx="669.1" cy="237.1" r="1.9"/><circle cx="670.4" cy="236.9" r="1.9"/><circle cx="665.9" cy="243.3" r="1.9"/><circle cx="671.7" cy="244.9" r="1.9"/><circle cx="661.9" cy="247.9" r="1.9"/><circle cx="662.6" cy="252.2" r="1.9"/><circle cx="667.1" cy="252.7" r="1.9"/><circle cx="665.1" cy="255.2" r="1.9"/><circle cx="659.9" cy="258" r="1.9"/><circle cx="660.6" cy="259.7" r="1.9"/><circle cx="659.9" cy="258.8" r="1.9"/><circle cx="660.6" cy="259.8" r="1.9"/><circle cx="663.3" cy="266.5" r="1.9"/><circle cx="668.4" cy="266.8" r="1.9"/><circle cx="672.2" cy="270.3" r="1.9"/><circle cx="659.1" cy="271.6" r="1.9"/><circle cx="655.6" cy="273.3" r="1.9"/><circle cx="657.6" cy="274.1" r="1.9"/><circle cx="661.1" cy="272.9" r="1.9"/><circle cx="664.6" cy="276.6" r="1.9"/><circle cx="665.1" cy="277.6" r="1.9"/><circle cx="663.6" cy="279.3" r="1.9"/><circle cx="652.6" cy="277.6" r="1.9"/><circle cx="654.1" cy="280.9" r="1.9"/><circle cx="651.6" cy="284.3" r="1.9"/><circle cx="654.9" cy="283.6" r="1.9"/><circle cx="656.6" cy="287.4" r="1.9"/><circle cx="650.1" cy="287.6" r="1.9"/><circle cx="646" cy="291.7" r="1.9"/><circle cx="648" cy="292.2" r="1.9"/><circle cx="649.5" cy="292.7" r="1.9"/><circle cx="617.7" cy="336.9" r="1.9"/><circle cx="625.2" cy="329.4" r="1.9"/><circle cx="629.7" cy="324.9" r="1.9"/><circle cx="633.7" cy="319.7" r="1.9"/><circle cx="637.3" cy="313.1" r="1.9"/><circle cx="639.4" cy="310.7" r="1.9"/><circle cx="641.8" cy="304.1" r="1.9"/><circle cx="643.9" cy="301.7" r="1.9"/></g>
<line x1="617.7" y1="352" x2="681.4" y2="227" stroke="#5f3c99" stroke-width="1.05"/>
<path d="M615.7 220.3V359H685.5" stroke="#141414" stroke-width="1.35" fill="none"/>
<g fill="#141414" font-weight="bold"><text font-size="8.42" transform="matrix(1.02 0 0 1 623.83 217.55)">D</text><text font-size="8.42" transform="matrix(0.92 0 0 1 629.95 217.55)">C</text><text font-size="8.42" transform="matrix(0.92 0 0 1 635.57 217.55)">C</text><text font-size="8.42" transform="matrix(1.13 0 0 1 644.35 217.55)">=</text><text font-size="8.42" transform="matrix(1.15 0 0 1 653 217.55)">0</text><text font-size="8.42" transform="matrix(1.13 0 0 1 658.47 217.55)">.</text><text font-size="8.42" transform="matrix(1.15 0 0 1 661.23 217.55)">0</text><text font-size="8.42" transform="matrix(1.15 0 0 1 666.55 217.55)">0</text><text font-size="8.42" transform="matrix(1.09 0 0 1 672.03 217.55)">6</text></g>
<g fill="#141414" font-weight="bold"><text font-size="8.48" transform="matrix(1.06 0 0 1 647.26 378.1)">D</text></g>
<g fill="#141414" font-weight="bold" transform="translate(595.3 289.65) rotate(-90)"><text font-size="8.27" transform="matrix(1.18 0 0 1 -8.93 0)">&lt;</text><text font-size="8.27" transform="matrix(0.92 0 0 1 -2.5 0)">S</text><text font-size="8.27" transform="matrix(1.18 0 0 1 3.23 0)">&gt;</text></g>
<rect x="635.7" y="331.4" width="45.1" height="23.9" rx="1.6" fill="#fff" fill-opacity="0.8" stroke="#dcdcdc" stroke-width="0.6"/>
<line x1="638" y1="336.9" x2="652.6" y2="336.9" stroke="#8c66b4" stroke-width="1.1"/>
<line x1="638" y1="348.3" x2="652.6" y2="348.3" stroke="#8a7aa8" stroke-width="0.85" stroke-dasharray="2.4 1.3"/>
<g fill="#111" font-weight="bold" font-style="italic" class="leg">
<text x="657.7" y="339.8" font-size="7.6" class="beta">β</text>
<text x="662.3" y="340.8" font-size="5.5" textLength="13.4" lengthAdjust="spacingAndGlyphs">pred</text>
<text x="657.7" y="351.2" font-size="7.6" class="beta">β</text>
<text x="662.3" y="352.2" font-size="5.5" textLength="6.8" lengthAdjust="spacingAndGlyphs">fit</text>
</g>
<text class="nb" x="114.3" y="9.75" font-size="13.6" font-weight="bold" fill="#000">Session 1:</text>
<text class="nb" x="187.0" y="9.75" font-size="13.6" font-weight="bold" font-style="italic" fill="#000">Rest</text>
<text class="nb" x="463.8" y="9.75" font-size="13.6" font-weight="bold" fill="#000">Session 4:</text>
<text class="nb" x="535.9" y="9.75" font-size="13.6" font-weight="bold" font-style="italic" fill="#000">Gameplay</text>
<text class="nb" x="0" y="0" font-size="12.05" font-weight="bold" fill="#000" text-anchor="middle" transform="translate(8.6 110.7) rotate(-90)">Culture 00</text>
<text class="nb" x="0" y="0" font-size="12.05" font-weight="bold" fill="#000" text-anchor="middle" transform="translate(8.6 275.6) rotate(-90)">Culture 01</text>
<text class="nb" x="157.3" y="394.6" font-size="10.6" font-weight="bold" fill="#000">a)</text>
<text class="nb" x="524.4" y="394.6" font-size="10.6" font-weight="bold" fill="#000">b)</text>
</svg>
</body></html>
